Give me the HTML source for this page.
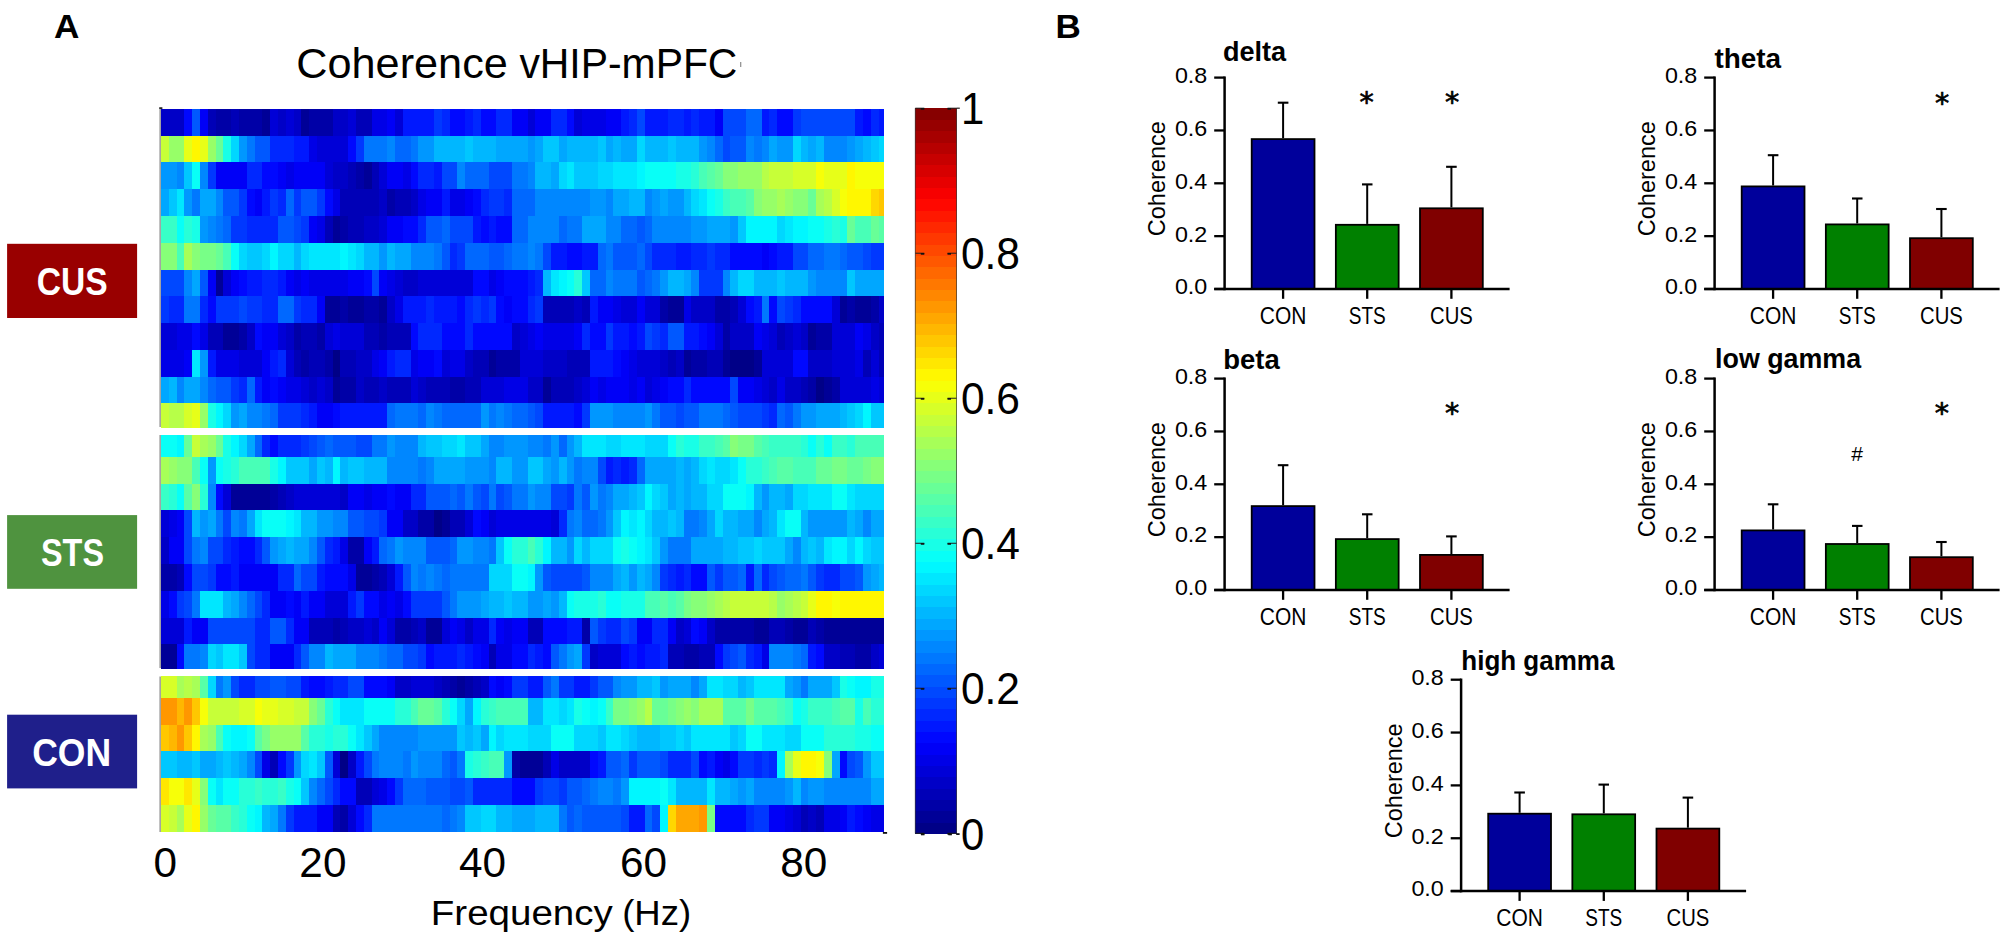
<!DOCTYPE html>
<html lang="en"><head><meta charset="utf-8"><title>Coherence vHIP-mPFC</title>
<style>html,body{margin:0;padding:0;background:#fff}svg{display:block}text{font-family:"Liberation Sans",Arial,sans-serif}</style>
</head><body>
<svg width="2008" height="941" viewBox="0 0 2008 941">
<rect width="2008" height="941" fill="#fff"/>
<text x="54.1" y="37.9" font-size="32.3" font-weight="bold" textLength="25.4" lengthAdjust="spacingAndGlyphs" fill="#000">A</text>
<text x="1055.4" y="37.9" font-size="32.3" font-weight="bold" textLength="25.3" lengthAdjust="spacingAndGlyphs" fill="#000">B</text>
<text y="77.6" font-size="42" fill="#000"><tspan x="296.3" textLength="211.5" lengthAdjust="spacingAndGlyphs">Coherence</tspan> <tspan x="519.4" textLength="218" lengthAdjust="spacingAndGlyphs">vHIP-mPFC</tspan></text>
<g shape-rendering="crispEdges">
<rect x="160.90" y="108.90" width="23.40" height="27.37" fill="#0000c7"/>
<rect x="184.30" y="108.90" width="7.80" height="27.37" fill="#0008ff"/>
<rect x="192.10" y="108.90" width="7.80" height="27.37" fill="#0058ff"/>
<rect x="199.90" y="108.90" width="7.80" height="27.37" fill="#0000f7"/>
<rect x="207.70" y="108.90" width="7.80" height="27.37" fill="#0000b7"/>
<rect x="215.50" y="108.90" width="15.60" height="27.37" fill="#0000a7"/>
<rect x="231.10" y="108.90" width="7.80" height="27.37" fill="#0000b7"/>
<rect x="238.90" y="108.90" width="23.40" height="27.37" fill="#0000a7"/>
<rect x="262.30" y="108.90" width="7.80" height="27.37" fill="#000097"/>
<rect x="270.10" y="108.90" width="7.80" height="27.37" fill="#0000d7"/>
<rect x="277.90" y="108.90" width="7.80" height="27.37" fill="#0000c7"/>
<rect x="285.70" y="108.90" width="7.80" height="27.37" fill="#0000d7"/>
<rect x="293.50" y="108.90" width="7.80" height="27.37" fill="#0000c7"/>
<rect x="301.30" y="108.90" width="7.80" height="27.37" fill="#000097"/>
<rect x="309.10" y="108.90" width="23.40" height="27.37" fill="#0000a7"/>
<rect x="332.50" y="108.90" width="15.60" height="27.37" fill="#0000c7"/>
<rect x="348.10" y="108.90" width="7.80" height="27.37" fill="#0000d7"/>
<rect x="355.90" y="108.90" width="15.60" height="27.37" fill="#0000b7"/>
<rect x="371.50" y="108.90" width="15.60" height="27.37" fill="#0000e7"/>
<rect x="387.10" y="108.90" width="7.80" height="27.37" fill="#0000f7"/>
<rect x="394.90" y="108.90" width="7.80" height="27.37" fill="#0000d7"/>
<rect x="402.70" y="108.90" width="31.20" height="27.37" fill="#0018ff"/>
<rect x="433.90" y="108.90" width="7.80" height="27.37" fill="#0038ff"/>
<rect x="441.70" y="108.90" width="7.80" height="27.37" fill="#0028ff"/>
<rect x="449.50" y="108.90" width="15.60" height="27.37" fill="#0008ff"/>
<rect x="465.10" y="108.90" width="7.80" height="27.37" fill="#0018ff"/>
<rect x="472.90" y="108.90" width="7.80" height="27.37" fill="#0028ff"/>
<rect x="480.70" y="108.90" width="15.60" height="27.37" fill="#0008ff"/>
<rect x="496.30" y="108.90" width="15.60" height="27.37" fill="#0028ff"/>
<rect x="511.90" y="108.90" width="15.60" height="27.37" fill="#0000f7"/>
<rect x="527.50" y="108.90" width="7.80" height="27.37" fill="#0000d7"/>
<rect x="535.30" y="108.90" width="15.60" height="27.37" fill="#0000f7"/>
<rect x="550.90" y="108.90" width="15.60" height="27.37" fill="#0028ff"/>
<rect x="566.50" y="108.90" width="7.80" height="27.37" fill="#0008ff"/>
<rect x="574.30" y="108.90" width="7.80" height="27.37" fill="#0000d7"/>
<rect x="582.10" y="108.90" width="23.40" height="27.37" fill="#0000e7"/>
<rect x="605.50" y="108.90" width="15.60" height="27.37" fill="#0000f7"/>
<rect x="621.10" y="108.90" width="7.80" height="27.37" fill="#0018ff"/>
<rect x="628.90" y="108.90" width="7.80" height="27.37" fill="#0028ff"/>
<rect x="636.70" y="108.90" width="7.80" height="27.37" fill="#0048ff"/>
<rect x="644.50" y="108.90" width="23.40" height="27.37" fill="#0018ff"/>
<rect x="667.90" y="108.90" width="15.60" height="27.37" fill="#0028ff"/>
<rect x="683.50" y="108.90" width="7.80" height="27.37" fill="#0018ff"/>
<rect x="691.30" y="108.90" width="7.80" height="27.37" fill="#0028ff"/>
<rect x="699.10" y="108.90" width="15.60" height="27.37" fill="#0018ff"/>
<rect x="714.70" y="108.90" width="7.80" height="27.37" fill="#0000f7"/>
<rect x="722.50" y="108.90" width="23.40" height="27.37" fill="#0048ff"/>
<rect x="745.90" y="108.90" width="15.60" height="27.37" fill="#0068ff"/>
<rect x="761.50" y="108.90" width="7.80" height="27.37" fill="#0018ff"/>
<rect x="769.30" y="108.90" width="7.80" height="27.37" fill="#0028ff"/>
<rect x="777.10" y="108.90" width="15.60" height="27.37" fill="#0008ff"/>
<rect x="792.70" y="108.90" width="7.80" height="27.37" fill="#0038ff"/>
<rect x="800.50" y="108.90" width="54.60" height="27.37" fill="#0048ff"/>
<rect x="855.10" y="108.90" width="7.80" height="27.37" fill="#0018ff"/>
<rect x="862.90" y="108.90" width="7.80" height="27.37" fill="#0008ff"/>
<rect x="870.70" y="108.90" width="7.80" height="27.37" fill="#0028ff"/>
<rect x="878.50" y="108.90" width="5.40" height="27.37" fill="#0018ff"/>
<rect x="160.90" y="135.67" width="7.80" height="27.37" fill="#c7ff38"/>
<rect x="168.70" y="135.67" width="15.60" height="27.37" fill="#97ff68"/>
<rect x="184.30" y="135.67" width="7.80" height="27.37" fill="#e7ff18"/>
<rect x="192.10" y="135.67" width="7.80" height="27.37" fill="#fff700"/>
<rect x="199.90" y="135.67" width="7.80" height="27.37" fill="#e7ff18"/>
<rect x="207.70" y="135.67" width="7.80" height="27.37" fill="#97ff68"/>
<rect x="215.50" y="135.67" width="7.80" height="27.37" fill="#68ff97"/>
<rect x="223.30" y="135.67" width="7.80" height="27.37" fill="#18ffe7"/>
<rect x="231.10" y="135.67" width="7.80" height="27.37" fill="#00d7ff"/>
<rect x="238.90" y="135.67" width="7.80" height="27.37" fill="#0097ff"/>
<rect x="246.70" y="135.67" width="7.80" height="27.37" fill="#0078ff"/>
<rect x="254.50" y="135.67" width="15.60" height="27.37" fill="#0058ff"/>
<rect x="270.10" y="135.67" width="23.40" height="27.37" fill="#0028ff"/>
<rect x="293.50" y="135.67" width="15.60" height="27.37" fill="#0018ff"/>
<rect x="309.10" y="135.67" width="7.80" height="27.37" fill="#0000e7"/>
<rect x="316.90" y="135.67" width="31.20" height="27.37" fill="#0000d7"/>
<rect x="348.10" y="135.67" width="7.80" height="27.37" fill="#0008ff"/>
<rect x="355.90" y="135.67" width="7.80" height="27.37" fill="#0038ff"/>
<rect x="363.70" y="135.67" width="23.40" height="27.37" fill="#0078ff"/>
<rect x="387.10" y="135.67" width="7.80" height="27.37" fill="#0087ff"/>
<rect x="394.90" y="135.67" width="15.60" height="27.37" fill="#0068ff"/>
<rect x="410.50" y="135.67" width="7.80" height="27.37" fill="#0078ff"/>
<rect x="418.30" y="135.67" width="15.60" height="27.37" fill="#0097ff"/>
<rect x="433.90" y="135.67" width="31.20" height="27.37" fill="#00b7ff"/>
<rect x="465.10" y="135.67" width="7.80" height="27.37" fill="#00c7ff"/>
<rect x="472.90" y="135.67" width="23.40" height="27.37" fill="#00b7ff"/>
<rect x="496.30" y="135.67" width="31.20" height="27.37" fill="#00a7ff"/>
<rect x="527.50" y="135.67" width="7.80" height="27.37" fill="#0097ff"/>
<rect x="535.30" y="135.67" width="7.80" height="27.37" fill="#00a7ff"/>
<rect x="543.10" y="135.67" width="15.60" height="27.37" fill="#00c7ff"/>
<rect x="558.70" y="135.67" width="7.80" height="27.37" fill="#00a7ff"/>
<rect x="566.50" y="135.67" width="31.20" height="27.37" fill="#00b7ff"/>
<rect x="597.70" y="135.67" width="7.80" height="27.37" fill="#00c7ff"/>
<rect x="605.50" y="135.67" width="7.80" height="27.37" fill="#00a7ff"/>
<rect x="613.30" y="135.67" width="7.80" height="27.37" fill="#00b7ff"/>
<rect x="621.10" y="135.67" width="15.60" height="27.37" fill="#00a7ff"/>
<rect x="636.70" y="135.67" width="7.80" height="27.37" fill="#00d7ff"/>
<rect x="644.50" y="135.67" width="23.40" height="27.37" fill="#00b7ff"/>
<rect x="667.90" y="135.67" width="7.80" height="27.37" fill="#00c7ff"/>
<rect x="675.70" y="135.67" width="23.40" height="27.37" fill="#00b7ff"/>
<rect x="699.10" y="135.67" width="7.80" height="27.37" fill="#0097ff"/>
<rect x="706.90" y="135.67" width="7.80" height="27.37" fill="#0087ff"/>
<rect x="714.70" y="135.67" width="7.80" height="27.37" fill="#0068ff"/>
<rect x="722.50" y="135.67" width="7.80" height="27.37" fill="#0048ff"/>
<rect x="730.30" y="135.67" width="15.60" height="27.37" fill="#0058ff"/>
<rect x="745.90" y="135.67" width="7.80" height="27.37" fill="#0087ff"/>
<rect x="753.70" y="135.67" width="7.80" height="27.37" fill="#0078ff"/>
<rect x="761.50" y="135.67" width="7.80" height="27.37" fill="#0087ff"/>
<rect x="769.30" y="135.67" width="7.80" height="27.37" fill="#00a7ff"/>
<rect x="777.10" y="135.67" width="15.60" height="27.37" fill="#0097ff"/>
<rect x="792.70" y="135.67" width="7.80" height="27.37" fill="#00d7ff"/>
<rect x="800.50" y="135.67" width="7.80" height="27.37" fill="#00b7ff"/>
<rect x="808.30" y="135.67" width="7.80" height="27.37" fill="#00a7ff"/>
<rect x="816.10" y="135.67" width="7.80" height="27.37" fill="#00b7ff"/>
<rect x="823.90" y="135.67" width="23.40" height="27.37" fill="#0087ff"/>
<rect x="847.30" y="135.67" width="7.80" height="27.37" fill="#0097ff"/>
<rect x="855.10" y="135.67" width="7.80" height="27.37" fill="#00a7ff"/>
<rect x="862.90" y="135.67" width="7.80" height="27.37" fill="#00b7ff"/>
<rect x="870.70" y="135.67" width="7.80" height="27.37" fill="#00c7ff"/>
<rect x="878.50" y="135.67" width="5.40" height="27.37" fill="#00d7ff"/>
<rect x="160.90" y="162.44" width="15.60" height="27.37" fill="#0097ff"/>
<rect x="176.50" y="162.44" width="7.80" height="27.37" fill="#0087ff"/>
<rect x="184.30" y="162.44" width="7.80" height="27.37" fill="#00c7ff"/>
<rect x="192.10" y="162.44" width="7.80" height="27.37" fill="#08fff7"/>
<rect x="199.90" y="162.44" width="7.80" height="27.37" fill="#0087ff"/>
<rect x="207.70" y="162.44" width="7.80" height="27.37" fill="#0038ff"/>
<rect x="215.50" y="162.44" width="31.20" height="27.37" fill="#0000f7"/>
<rect x="246.70" y="162.44" width="15.60" height="27.37" fill="#0028ff"/>
<rect x="262.30" y="162.44" width="15.60" height="27.37" fill="#0008ff"/>
<rect x="277.90" y="162.44" width="7.80" height="27.37" fill="#0000f7"/>
<rect x="285.70" y="162.44" width="7.80" height="27.37" fill="#0000e7"/>
<rect x="293.50" y="162.44" width="31.20" height="27.37" fill="#0000f7"/>
<rect x="324.70" y="162.44" width="7.80" height="27.37" fill="#0000d7"/>
<rect x="332.50" y="162.44" width="15.60" height="27.37" fill="#0000c7"/>
<rect x="348.10" y="162.44" width="7.80" height="27.37" fill="#0000b7"/>
<rect x="355.90" y="162.44" width="7.80" height="27.37" fill="#0000a7"/>
<rect x="363.70" y="162.44" width="7.80" height="27.37" fill="#000097"/>
<rect x="371.50" y="162.44" width="7.80" height="27.37" fill="#0000b7"/>
<rect x="379.30" y="162.44" width="7.80" height="27.37" fill="#0000d7"/>
<rect x="387.10" y="162.44" width="15.60" height="27.37" fill="#0000f7"/>
<rect x="402.70" y="162.44" width="7.80" height="27.37" fill="#0000e7"/>
<rect x="410.50" y="162.44" width="7.80" height="27.37" fill="#0008ff"/>
<rect x="418.30" y="162.44" width="15.60" height="27.37" fill="#0028ff"/>
<rect x="433.90" y="162.44" width="7.80" height="27.37" fill="#0018ff"/>
<rect x="441.70" y="162.44" width="15.60" height="27.37" fill="#0048ff"/>
<rect x="457.30" y="162.44" width="7.80" height="27.37" fill="#0087ff"/>
<rect x="465.10" y="162.44" width="23.40" height="27.37" fill="#0068ff"/>
<rect x="488.50" y="162.44" width="23.40" height="27.37" fill="#0048ff"/>
<rect x="511.90" y="162.44" width="15.60" height="27.37" fill="#0078ff"/>
<rect x="527.50" y="162.44" width="7.80" height="27.37" fill="#0087ff"/>
<rect x="535.30" y="162.44" width="15.60" height="27.37" fill="#00b7ff"/>
<rect x="550.90" y="162.44" width="7.80" height="27.37" fill="#00a7ff"/>
<rect x="558.70" y="162.44" width="7.80" height="27.37" fill="#00d7ff"/>
<rect x="566.50" y="162.44" width="7.80" height="27.37" fill="#00e7ff"/>
<rect x="574.30" y="162.44" width="23.40" height="27.37" fill="#00c7ff"/>
<rect x="597.70" y="162.44" width="15.60" height="27.37" fill="#00d7ff"/>
<rect x="613.30" y="162.44" width="23.40" height="27.37" fill="#00e7ff"/>
<rect x="636.70" y="162.44" width="7.80" height="27.37" fill="#00f7ff"/>
<rect x="644.50" y="162.44" width="31.20" height="27.37" fill="#08fff7"/>
<rect x="675.70" y="162.44" width="15.60" height="27.37" fill="#18ffe7"/>
<rect x="691.30" y="162.44" width="7.80" height="27.37" fill="#28ffd7"/>
<rect x="699.10" y="162.44" width="7.80" height="27.37" fill="#48ffb7"/>
<rect x="706.90" y="162.44" width="7.80" height="27.37" fill="#58ffa7"/>
<rect x="714.70" y="162.44" width="7.80" height="27.37" fill="#68ff97"/>
<rect x="722.50" y="162.44" width="15.60" height="27.37" fill="#87ff78"/>
<rect x="738.10" y="162.44" width="23.40" height="27.37" fill="#97ff68"/>
<rect x="761.50" y="162.44" width="7.80" height="27.37" fill="#b7ff48"/>
<rect x="769.30" y="162.44" width="23.40" height="27.37" fill="#c7ff38"/>
<rect x="792.70" y="162.44" width="23.40" height="27.37" fill="#d7ff28"/>
<rect x="816.10" y="162.44" width="7.80" height="27.37" fill="#f7ff08"/>
<rect x="823.90" y="162.44" width="23.40" height="27.37" fill="#e7ff18"/>
<rect x="847.30" y="162.44" width="7.80" height="27.37" fill="#fff700"/>
<rect x="855.10" y="162.44" width="28.80" height="27.37" fill="#f7ff08"/>
<rect x="160.90" y="189.21" width="7.80" height="27.37" fill="#00a7ff"/>
<rect x="168.70" y="189.21" width="7.80" height="27.37" fill="#00c7ff"/>
<rect x="176.50" y="189.21" width="7.80" height="27.37" fill="#00e7ff"/>
<rect x="184.30" y="189.21" width="7.80" height="27.37" fill="#0097ff"/>
<rect x="192.10" y="189.21" width="7.80" height="27.37" fill="#0078ff"/>
<rect x="199.90" y="189.21" width="15.60" height="27.37" fill="#00a7ff"/>
<rect x="215.50" y="189.21" width="7.80" height="27.37" fill="#0087ff"/>
<rect x="223.30" y="189.21" width="15.60" height="27.37" fill="#0058ff"/>
<rect x="238.90" y="189.21" width="7.80" height="27.37" fill="#0038ff"/>
<rect x="246.70" y="189.21" width="7.80" height="27.37" fill="#0008ff"/>
<rect x="254.50" y="189.21" width="7.80" height="27.37" fill="#0000f7"/>
<rect x="262.30" y="189.21" width="7.80" height="27.37" fill="#0018ff"/>
<rect x="270.10" y="189.21" width="7.80" height="27.37" fill="#0038ff"/>
<rect x="277.90" y="189.21" width="7.80" height="27.37" fill="#0028ff"/>
<rect x="285.70" y="189.21" width="7.80" height="27.37" fill="#0068ff"/>
<rect x="293.50" y="189.21" width="7.80" height="27.37" fill="#0038ff"/>
<rect x="301.30" y="189.21" width="15.60" height="27.37" fill="#0058ff"/>
<rect x="316.90" y="189.21" width="7.80" height="27.37" fill="#0038ff"/>
<rect x="324.70" y="189.21" width="7.80" height="27.37" fill="#0008ff"/>
<rect x="332.50" y="189.21" width="7.80" height="27.37" fill="#0000e7"/>
<rect x="340.30" y="189.21" width="39.00" height="27.37" fill="#0000b7"/>
<rect x="379.30" y="189.21" width="7.80" height="27.37" fill="#0000c7"/>
<rect x="387.10" y="189.21" width="7.80" height="27.37" fill="#0000a7"/>
<rect x="394.90" y="189.21" width="15.60" height="27.37" fill="#0000b7"/>
<rect x="410.50" y="189.21" width="7.80" height="27.37" fill="#0000c7"/>
<rect x="418.30" y="189.21" width="7.80" height="27.37" fill="#0000e7"/>
<rect x="426.10" y="189.21" width="15.60" height="27.37" fill="#0000f7"/>
<rect x="441.70" y="189.21" width="7.80" height="27.37" fill="#0018ff"/>
<rect x="449.50" y="189.21" width="15.60" height="27.37" fill="#0000e7"/>
<rect x="465.10" y="189.21" width="7.80" height="27.37" fill="#0000f7"/>
<rect x="472.90" y="189.21" width="7.80" height="27.37" fill="#0008ff"/>
<rect x="480.70" y="189.21" width="7.80" height="27.37" fill="#0028ff"/>
<rect x="488.50" y="189.21" width="15.60" height="27.37" fill="#0038ff"/>
<rect x="504.10" y="189.21" width="7.80" height="27.37" fill="#0028ff"/>
<rect x="511.90" y="189.21" width="23.40" height="27.37" fill="#0068ff"/>
<rect x="535.30" y="189.21" width="54.60" height="27.37" fill="#0087ff"/>
<rect x="589.90" y="189.21" width="15.60" height="27.37" fill="#0097ff"/>
<rect x="605.50" y="189.21" width="7.80" height="27.37" fill="#0087ff"/>
<rect x="613.30" y="189.21" width="15.60" height="27.37" fill="#00a7ff"/>
<rect x="628.90" y="189.21" width="15.60" height="27.37" fill="#00b7ff"/>
<rect x="644.50" y="189.21" width="7.80" height="27.37" fill="#0087ff"/>
<rect x="652.30" y="189.21" width="7.80" height="27.37" fill="#0097ff"/>
<rect x="660.10" y="189.21" width="7.80" height="27.37" fill="#00a7ff"/>
<rect x="667.90" y="189.21" width="15.60" height="27.37" fill="#0097ff"/>
<rect x="683.50" y="189.21" width="7.80" height="27.37" fill="#00b7ff"/>
<rect x="691.30" y="189.21" width="7.80" height="27.37" fill="#00d7ff"/>
<rect x="699.10" y="189.21" width="7.80" height="27.37" fill="#00e7ff"/>
<rect x="706.90" y="189.21" width="7.80" height="27.37" fill="#08fff7"/>
<rect x="714.70" y="189.21" width="7.80" height="27.37" fill="#18ffe7"/>
<rect x="722.50" y="189.21" width="7.80" height="27.37" fill="#38ffc7"/>
<rect x="730.30" y="189.21" width="15.60" height="27.37" fill="#48ffb7"/>
<rect x="745.90" y="189.21" width="7.80" height="27.37" fill="#58ffa7"/>
<rect x="753.70" y="189.21" width="7.80" height="27.37" fill="#87ff78"/>
<rect x="761.50" y="189.21" width="15.60" height="27.37" fill="#97ff68"/>
<rect x="777.10" y="189.21" width="7.80" height="27.37" fill="#a7ff58"/>
<rect x="784.90" y="189.21" width="7.80" height="27.37" fill="#97ff68"/>
<rect x="792.70" y="189.21" width="15.60" height="27.37" fill="#87ff78"/>
<rect x="808.30" y="189.21" width="7.80" height="27.37" fill="#68ff97"/>
<rect x="816.10" y="189.21" width="7.80" height="27.37" fill="#a7ff58"/>
<rect x="823.90" y="189.21" width="7.80" height="27.37" fill="#b7ff48"/>
<rect x="831.70" y="189.21" width="7.80" height="27.37" fill="#d7ff28"/>
<rect x="839.50" y="189.21" width="7.80" height="27.37" fill="#f7ff08"/>
<rect x="847.30" y="189.21" width="23.40" height="27.37" fill="#fff700"/>
<rect x="870.70" y="189.21" width="7.80" height="27.37" fill="#ffd700"/>
<rect x="878.50" y="189.21" width="5.40" height="27.37" fill="#ffc700"/>
<rect x="160.90" y="215.98" width="15.60" height="27.37" fill="#38ffc7"/>
<rect x="176.50" y="215.98" width="7.80" height="27.37" fill="#08fff7"/>
<rect x="184.30" y="215.98" width="7.80" height="27.37" fill="#28ffd7"/>
<rect x="192.10" y="215.98" width="7.80" height="27.37" fill="#18ffe7"/>
<rect x="199.90" y="215.98" width="7.80" height="27.37" fill="#0097ff"/>
<rect x="207.70" y="215.98" width="7.80" height="27.37" fill="#0087ff"/>
<rect x="215.50" y="215.98" width="7.80" height="27.37" fill="#0078ff"/>
<rect x="223.30" y="215.98" width="7.80" height="27.37" fill="#0068ff"/>
<rect x="231.10" y="215.98" width="15.60" height="27.37" fill="#0038ff"/>
<rect x="246.70" y="215.98" width="31.20" height="27.37" fill="#0028ff"/>
<rect x="277.90" y="215.98" width="15.60" height="27.37" fill="#0058ff"/>
<rect x="293.50" y="215.98" width="7.80" height="27.37" fill="#0048ff"/>
<rect x="301.30" y="215.98" width="7.80" height="27.37" fill="#0038ff"/>
<rect x="309.10" y="215.98" width="7.80" height="27.37" fill="#0000f7"/>
<rect x="316.90" y="215.98" width="7.80" height="27.37" fill="#0000e7"/>
<rect x="324.70" y="215.98" width="7.80" height="27.37" fill="#0000b7"/>
<rect x="332.50" y="215.98" width="7.80" height="27.37" fill="#000097"/>
<rect x="340.30" y="215.98" width="7.80" height="27.37" fill="#0000a7"/>
<rect x="348.10" y="215.98" width="15.60" height="27.37" fill="#0000b7"/>
<rect x="363.70" y="215.98" width="15.60" height="27.37" fill="#0000c7"/>
<rect x="379.30" y="215.98" width="7.80" height="27.37" fill="#0000d7"/>
<rect x="387.10" y="215.98" width="15.60" height="27.37" fill="#0000f7"/>
<rect x="402.70" y="215.98" width="15.60" height="27.37" fill="#0008ff"/>
<rect x="418.30" y="215.98" width="7.80" height="27.37" fill="#0028ff"/>
<rect x="426.10" y="215.98" width="15.60" height="27.37" fill="#0058ff"/>
<rect x="441.70" y="215.98" width="7.80" height="27.37" fill="#0068ff"/>
<rect x="449.50" y="215.98" width="23.40" height="27.37" fill="#0048ff"/>
<rect x="472.90" y="215.98" width="7.80" height="27.37" fill="#0018ff"/>
<rect x="480.70" y="215.98" width="7.80" height="27.37" fill="#0008ff"/>
<rect x="488.50" y="215.98" width="7.80" height="27.37" fill="#0018ff"/>
<rect x="496.30" y="215.98" width="15.60" height="27.37" fill="#0008ff"/>
<rect x="511.90" y="215.98" width="15.60" height="27.37" fill="#0068ff"/>
<rect x="527.50" y="215.98" width="31.20" height="27.37" fill="#0087ff"/>
<rect x="558.70" y="215.98" width="7.80" height="27.37" fill="#0068ff"/>
<rect x="566.50" y="215.98" width="15.60" height="27.37" fill="#0078ff"/>
<rect x="582.10" y="215.98" width="23.40" height="27.37" fill="#00a7ff"/>
<rect x="605.50" y="215.98" width="15.60" height="27.37" fill="#0087ff"/>
<rect x="621.10" y="215.98" width="15.60" height="27.37" fill="#0068ff"/>
<rect x="636.70" y="215.98" width="7.80" height="27.37" fill="#0058ff"/>
<rect x="644.50" y="215.98" width="7.80" height="27.37" fill="#0068ff"/>
<rect x="652.30" y="215.98" width="39.00" height="27.37" fill="#0087ff"/>
<rect x="691.30" y="215.98" width="15.60" height="27.37" fill="#0097ff"/>
<rect x="706.90" y="215.98" width="23.40" height="27.37" fill="#00a7ff"/>
<rect x="730.30" y="215.98" width="7.80" height="27.37" fill="#0097ff"/>
<rect x="738.10" y="215.98" width="7.80" height="27.37" fill="#00c7ff"/>
<rect x="745.90" y="215.98" width="31.20" height="27.37" fill="#00f7ff"/>
<rect x="777.10" y="215.98" width="7.80" height="27.37" fill="#00d7ff"/>
<rect x="784.90" y="215.98" width="7.80" height="27.37" fill="#00e7ff"/>
<rect x="792.70" y="215.98" width="15.60" height="27.37" fill="#00f7ff"/>
<rect x="808.30" y="215.98" width="15.60" height="27.37" fill="#08fff7"/>
<rect x="823.90" y="215.98" width="7.80" height="27.37" fill="#18ffe7"/>
<rect x="831.70" y="215.98" width="7.80" height="27.37" fill="#28ffd7"/>
<rect x="839.50" y="215.98" width="7.80" height="27.37" fill="#18ffe7"/>
<rect x="847.30" y="215.98" width="7.80" height="27.37" fill="#68ff97"/>
<rect x="855.10" y="215.98" width="15.60" height="27.37" fill="#48ffb7"/>
<rect x="870.70" y="215.98" width="7.80" height="27.37" fill="#68ff97"/>
<rect x="878.50" y="215.98" width="5.40" height="27.37" fill="#58ffa7"/>
<rect x="160.90" y="242.75" width="15.60" height="27.37" fill="#87ff78"/>
<rect x="176.50" y="242.75" width="7.80" height="27.37" fill="#48ffb7"/>
<rect x="184.30" y="242.75" width="7.80" height="27.37" fill="#a7ff58"/>
<rect x="192.10" y="242.75" width="7.80" height="27.37" fill="#87ff78"/>
<rect x="199.90" y="242.75" width="15.60" height="27.37" fill="#78ff87"/>
<rect x="215.50" y="242.75" width="7.80" height="27.37" fill="#68ff97"/>
<rect x="223.30" y="242.75" width="7.80" height="27.37" fill="#48ffb7"/>
<rect x="231.10" y="242.75" width="7.80" height="27.37" fill="#08fff7"/>
<rect x="238.90" y="242.75" width="7.80" height="27.37" fill="#00d7ff"/>
<rect x="246.70" y="242.75" width="15.60" height="27.37" fill="#00c7ff"/>
<rect x="262.30" y="242.75" width="7.80" height="27.37" fill="#00d7ff"/>
<rect x="270.10" y="242.75" width="7.80" height="27.37" fill="#00f7ff"/>
<rect x="277.90" y="242.75" width="15.60" height="27.37" fill="#00d7ff"/>
<rect x="293.50" y="242.75" width="7.80" height="27.37" fill="#00b7ff"/>
<rect x="301.30" y="242.75" width="7.80" height="27.37" fill="#00d7ff"/>
<rect x="309.10" y="242.75" width="31.20" height="27.37" fill="#00e7ff"/>
<rect x="340.30" y="242.75" width="7.80" height="27.37" fill="#00f7ff"/>
<rect x="348.10" y="242.75" width="7.80" height="27.37" fill="#00e7ff"/>
<rect x="355.90" y="242.75" width="7.80" height="27.37" fill="#00d7ff"/>
<rect x="363.70" y="242.75" width="15.60" height="27.37" fill="#00b7ff"/>
<rect x="379.30" y="242.75" width="7.80" height="27.37" fill="#0097ff"/>
<rect x="387.10" y="242.75" width="7.80" height="27.37" fill="#00b7ff"/>
<rect x="394.90" y="242.75" width="15.60" height="27.37" fill="#00a7ff"/>
<rect x="410.50" y="242.75" width="23.40" height="27.37" fill="#0087ff"/>
<rect x="433.90" y="242.75" width="7.80" height="27.37" fill="#0078ff"/>
<rect x="441.70" y="242.75" width="7.80" height="27.37" fill="#0058ff"/>
<rect x="449.50" y="242.75" width="7.80" height="27.37" fill="#0028ff"/>
<rect x="457.30" y="242.75" width="7.80" height="27.37" fill="#0038ff"/>
<rect x="465.10" y="242.75" width="23.40" height="27.37" fill="#0068ff"/>
<rect x="488.50" y="242.75" width="15.60" height="27.37" fill="#0058ff"/>
<rect x="504.10" y="242.75" width="7.80" height="27.37" fill="#0068ff"/>
<rect x="511.90" y="242.75" width="15.60" height="27.37" fill="#0078ff"/>
<rect x="527.50" y="242.75" width="7.80" height="27.37" fill="#0087ff"/>
<rect x="535.30" y="242.75" width="7.80" height="27.37" fill="#0078ff"/>
<rect x="543.10" y="242.75" width="7.80" height="27.37" fill="#0048ff"/>
<rect x="550.90" y="242.75" width="15.60" height="27.37" fill="#0018ff"/>
<rect x="566.50" y="242.75" width="15.60" height="27.37" fill="#0008ff"/>
<rect x="582.10" y="242.75" width="15.60" height="27.37" fill="#0018ff"/>
<rect x="597.70" y="242.75" width="7.80" height="27.37" fill="#0068ff"/>
<rect x="605.50" y="242.75" width="7.80" height="27.37" fill="#0078ff"/>
<rect x="613.30" y="242.75" width="23.40" height="27.37" fill="#0058ff"/>
<rect x="636.70" y="242.75" width="7.80" height="27.37" fill="#0068ff"/>
<rect x="644.50" y="242.75" width="7.80" height="27.37" fill="#0048ff"/>
<rect x="652.30" y="242.75" width="23.40" height="27.37" fill="#0028ff"/>
<rect x="675.70" y="242.75" width="15.60" height="27.37" fill="#0018ff"/>
<rect x="691.30" y="242.75" width="15.60" height="27.37" fill="#0028ff"/>
<rect x="706.90" y="242.75" width="7.80" height="27.37" fill="#0038ff"/>
<rect x="714.70" y="242.75" width="15.60" height="27.37" fill="#0028ff"/>
<rect x="730.30" y="242.75" width="31.20" height="27.37" fill="#0008ff"/>
<rect x="761.50" y="242.75" width="7.80" height="27.37" fill="#0000f7"/>
<rect x="769.30" y="242.75" width="7.80" height="27.37" fill="#0008ff"/>
<rect x="777.10" y="242.75" width="15.60" height="27.37" fill="#0018ff"/>
<rect x="792.70" y="242.75" width="15.60" height="27.37" fill="#0048ff"/>
<rect x="808.30" y="242.75" width="15.60" height="27.37" fill="#0068ff"/>
<rect x="823.90" y="242.75" width="15.60" height="27.37" fill="#0078ff"/>
<rect x="839.50" y="242.75" width="7.80" height="27.37" fill="#0068ff"/>
<rect x="847.30" y="242.75" width="15.60" height="27.37" fill="#0058ff"/>
<rect x="862.90" y="242.75" width="7.80" height="27.37" fill="#0048ff"/>
<rect x="870.70" y="242.75" width="13.20" height="27.37" fill="#0038ff"/>
<rect x="160.90" y="269.52" width="23.40" height="27.37" fill="#0048ff"/>
<rect x="184.30" y="269.52" width="7.80" height="27.37" fill="#0087ff"/>
<rect x="192.10" y="269.52" width="7.80" height="27.37" fill="#00a7ff"/>
<rect x="199.90" y="269.52" width="7.80" height="27.37" fill="#0058ff"/>
<rect x="207.70" y="269.52" width="7.80" height="27.37" fill="#0000f7"/>
<rect x="215.50" y="269.52" width="7.80" height="27.37" fill="#000097"/>
<rect x="223.30" y="269.52" width="7.80" height="27.37" fill="#0000d7"/>
<rect x="231.10" y="269.52" width="7.80" height="27.37" fill="#0000f7"/>
<rect x="238.90" y="269.52" width="7.80" height="27.37" fill="#0008ff"/>
<rect x="246.70" y="269.52" width="15.60" height="27.37" fill="#0018ff"/>
<rect x="262.30" y="269.52" width="15.60" height="27.37" fill="#0028ff"/>
<rect x="277.90" y="269.52" width="7.80" height="27.37" fill="#0018ff"/>
<rect x="285.70" y="269.52" width="7.80" height="27.37" fill="#0000f7"/>
<rect x="293.50" y="269.52" width="7.80" height="27.37" fill="#0000e7"/>
<rect x="301.30" y="269.52" width="7.80" height="27.37" fill="#0000f7"/>
<rect x="309.10" y="269.52" width="39.00" height="27.37" fill="#0000e7"/>
<rect x="348.10" y="269.52" width="15.60" height="27.37" fill="#0000f7"/>
<rect x="363.70" y="269.52" width="7.80" height="27.37" fill="#0008ff"/>
<rect x="371.50" y="269.52" width="7.80" height="27.37" fill="#0048ff"/>
<rect x="379.30" y="269.52" width="7.80" height="27.37" fill="#0000f7"/>
<rect x="387.10" y="269.52" width="7.80" height="27.37" fill="#0000e7"/>
<rect x="394.90" y="269.52" width="7.80" height="27.37" fill="#0000d7"/>
<rect x="402.70" y="269.52" width="15.60" height="27.37" fill="#0000c7"/>
<rect x="418.30" y="269.52" width="54.60" height="27.37" fill="#0000d7"/>
<rect x="472.90" y="269.52" width="15.60" height="27.37" fill="#0008ff"/>
<rect x="488.50" y="269.52" width="7.80" height="27.37" fill="#0000e7"/>
<rect x="496.30" y="269.52" width="7.80" height="27.37" fill="#0000f7"/>
<rect x="504.10" y="269.52" width="23.40" height="27.37" fill="#0008ff"/>
<rect x="527.50" y="269.52" width="7.80" height="27.37" fill="#0018ff"/>
<rect x="535.30" y="269.52" width="7.80" height="27.37" fill="#0028ff"/>
<rect x="543.10" y="269.52" width="7.80" height="27.37" fill="#00b7ff"/>
<rect x="550.90" y="269.52" width="7.80" height="27.37" fill="#00e7ff"/>
<rect x="558.70" y="269.52" width="7.80" height="27.37" fill="#00f7ff"/>
<rect x="566.50" y="269.52" width="7.80" height="27.37" fill="#08fff7"/>
<rect x="574.30" y="269.52" width="7.80" height="27.37" fill="#28ffd7"/>
<rect x="582.10" y="269.52" width="7.80" height="27.37" fill="#00c7ff"/>
<rect x="589.90" y="269.52" width="15.60" height="27.37" fill="#0068ff"/>
<rect x="605.50" y="269.52" width="7.80" height="27.37" fill="#0087ff"/>
<rect x="613.30" y="269.52" width="23.40" height="27.37" fill="#0078ff"/>
<rect x="636.70" y="269.52" width="7.80" height="27.37" fill="#0058ff"/>
<rect x="644.50" y="269.52" width="7.80" height="27.37" fill="#0068ff"/>
<rect x="652.30" y="269.52" width="7.80" height="27.37" fill="#0078ff"/>
<rect x="660.10" y="269.52" width="7.80" height="27.37" fill="#0097ff"/>
<rect x="667.90" y="269.52" width="15.60" height="27.37" fill="#00b7ff"/>
<rect x="683.50" y="269.52" width="7.80" height="27.37" fill="#00a7ff"/>
<rect x="691.30" y="269.52" width="7.80" height="27.37" fill="#0087ff"/>
<rect x="699.10" y="269.52" width="23.40" height="27.37" fill="#0038ff"/>
<rect x="722.50" y="269.52" width="7.80" height="27.37" fill="#0087ff"/>
<rect x="730.30" y="269.52" width="7.80" height="27.37" fill="#00b7ff"/>
<rect x="738.10" y="269.52" width="15.60" height="27.37" fill="#00d7ff"/>
<rect x="753.70" y="269.52" width="23.40" height="27.37" fill="#00b7ff"/>
<rect x="777.10" y="269.52" width="7.80" height="27.37" fill="#00c7ff"/>
<rect x="784.90" y="269.52" width="23.40" height="27.37" fill="#00b7ff"/>
<rect x="808.30" y="269.52" width="7.80" height="27.37" fill="#0097ff"/>
<rect x="816.10" y="269.52" width="31.20" height="27.37" fill="#0087ff"/>
<rect x="847.30" y="269.52" width="7.80" height="27.37" fill="#00c7ff"/>
<rect x="855.10" y="269.52" width="28.80" height="27.37" fill="#00a7ff"/>
<rect x="160.90" y="296.29" width="7.80" height="27.37" fill="#0038ff"/>
<rect x="168.70" y="296.29" width="15.60" height="27.37" fill="#0028ff"/>
<rect x="184.30" y="296.29" width="15.60" height="27.37" fill="#0078ff"/>
<rect x="199.90" y="296.29" width="7.80" height="27.37" fill="#0028ff"/>
<rect x="207.70" y="296.29" width="7.80" height="27.37" fill="#0008ff"/>
<rect x="215.50" y="296.29" width="23.40" height="27.37" fill="#0038ff"/>
<rect x="238.90" y="296.29" width="7.80" height="27.37" fill="#0048ff"/>
<rect x="246.70" y="296.29" width="15.60" height="27.37" fill="#0038ff"/>
<rect x="262.30" y="296.29" width="15.60" height="27.37" fill="#0028ff"/>
<rect x="277.90" y="296.29" width="15.60" height="27.37" fill="#0068ff"/>
<rect x="293.50" y="296.29" width="7.80" height="27.37" fill="#0038ff"/>
<rect x="301.30" y="296.29" width="15.60" height="27.37" fill="#0028ff"/>
<rect x="316.90" y="296.29" width="7.80" height="27.37" fill="#0000f7"/>
<rect x="324.70" y="296.29" width="15.60" height="27.37" fill="#000097"/>
<rect x="340.30" y="296.29" width="7.80" height="27.37" fill="#0000a7"/>
<rect x="348.10" y="296.29" width="15.60" height="27.37" fill="#000097"/>
<rect x="363.70" y="296.29" width="15.60" height="27.37" fill="#0000a7"/>
<rect x="379.30" y="296.29" width="7.80" height="27.37" fill="#000097"/>
<rect x="387.10" y="296.29" width="7.80" height="27.37" fill="#0000c7"/>
<rect x="394.90" y="296.29" width="7.80" height="27.37" fill="#0000e7"/>
<rect x="402.70" y="296.29" width="23.40" height="27.37" fill="#0018ff"/>
<rect x="426.10" y="296.29" width="7.80" height="27.37" fill="#0028ff"/>
<rect x="433.90" y="296.29" width="23.40" height="27.37" fill="#0018ff"/>
<rect x="457.30" y="296.29" width="7.80" height="27.37" fill="#0008ff"/>
<rect x="465.10" y="296.29" width="7.80" height="27.37" fill="#0028ff"/>
<rect x="472.90" y="296.29" width="7.80" height="27.37" fill="#0038ff"/>
<rect x="480.70" y="296.29" width="7.80" height="27.37" fill="#0028ff"/>
<rect x="488.50" y="296.29" width="7.80" height="27.37" fill="#0038ff"/>
<rect x="496.30" y="296.29" width="7.80" height="27.37" fill="#0008ff"/>
<rect x="504.10" y="296.29" width="7.80" height="27.37" fill="#0000f7"/>
<rect x="511.90" y="296.29" width="15.60" height="27.37" fill="#0008ff"/>
<rect x="527.50" y="296.29" width="7.80" height="27.37" fill="#0028ff"/>
<rect x="535.30" y="296.29" width="7.80" height="27.37" fill="#0038ff"/>
<rect x="543.10" y="296.29" width="31.20" height="27.37" fill="#0000b7"/>
<rect x="574.30" y="296.29" width="7.80" height="27.37" fill="#0000c7"/>
<rect x="582.10" y="296.29" width="7.80" height="27.37" fill="#0000b7"/>
<rect x="589.90" y="296.29" width="7.80" height="27.37" fill="#0018ff"/>
<rect x="597.70" y="296.29" width="15.60" height="27.37" fill="#0000f7"/>
<rect x="613.30" y="296.29" width="7.80" height="27.37" fill="#0000e7"/>
<rect x="621.10" y="296.29" width="15.60" height="27.37" fill="#0000d7"/>
<rect x="636.70" y="296.29" width="7.80" height="27.37" fill="#0000f7"/>
<rect x="644.50" y="296.29" width="15.60" height="27.37" fill="#0000d7"/>
<rect x="660.10" y="296.29" width="7.80" height="27.37" fill="#0000a7"/>
<rect x="667.90" y="296.29" width="15.60" height="27.37" fill="#000097"/>
<rect x="683.50" y="296.29" width="7.80" height="27.37" fill="#0000e7"/>
<rect x="691.30" y="296.29" width="23.40" height="27.37" fill="#0000c7"/>
<rect x="714.70" y="296.29" width="15.60" height="27.37" fill="#0000a7"/>
<rect x="730.30" y="296.29" width="7.80" height="27.37" fill="#0000b7"/>
<rect x="738.10" y="296.29" width="7.80" height="27.37" fill="#0000d7"/>
<rect x="745.90" y="296.29" width="7.80" height="27.37" fill="#0008ff"/>
<rect x="753.70" y="296.29" width="7.80" height="27.37" fill="#0018ff"/>
<rect x="761.50" y="296.29" width="7.80" height="27.37" fill="#0078ff"/>
<rect x="769.30" y="296.29" width="7.80" height="27.37" fill="#0008ff"/>
<rect x="777.10" y="296.29" width="7.80" height="27.37" fill="#0048ff"/>
<rect x="784.90" y="296.29" width="7.80" height="27.37" fill="#0038ff"/>
<rect x="792.70" y="296.29" width="7.80" height="27.37" fill="#0028ff"/>
<rect x="800.50" y="296.29" width="31.20" height="27.37" fill="#0008ff"/>
<rect x="831.70" y="296.29" width="7.80" height="27.37" fill="#0000d7"/>
<rect x="839.50" y="296.29" width="7.80" height="27.37" fill="#000097"/>
<rect x="847.30" y="296.29" width="7.80" height="27.37" fill="#0000a7"/>
<rect x="855.10" y="296.29" width="15.60" height="27.37" fill="#000097"/>
<rect x="870.70" y="296.29" width="7.80" height="27.37" fill="#0000a7"/>
<rect x="878.50" y="296.29" width="5.40" height="27.37" fill="#0000c7"/>
<rect x="160.90" y="323.06" width="15.60" height="27.37" fill="#0000d7"/>
<rect x="176.50" y="323.06" width="15.60" height="27.37" fill="#0000e7"/>
<rect x="192.10" y="323.06" width="7.80" height="27.37" fill="#0008ff"/>
<rect x="199.90" y="323.06" width="7.80" height="27.37" fill="#0000e7"/>
<rect x="207.70" y="323.06" width="15.60" height="27.37" fill="#0000b7"/>
<rect x="223.30" y="323.06" width="15.60" height="27.37" fill="#000097"/>
<rect x="238.90" y="323.06" width="7.80" height="27.37" fill="#0000a7"/>
<rect x="246.70" y="323.06" width="7.80" height="27.37" fill="#0000c7"/>
<rect x="254.50" y="323.06" width="7.80" height="27.37" fill="#0008ff"/>
<rect x="262.30" y="323.06" width="15.60" height="27.37" fill="#0000f7"/>
<rect x="277.90" y="323.06" width="7.80" height="27.37" fill="#0000d7"/>
<rect x="285.70" y="323.06" width="7.80" height="27.37" fill="#0000c7"/>
<rect x="293.50" y="323.06" width="7.80" height="27.37" fill="#0000a7"/>
<rect x="301.30" y="323.06" width="15.60" height="27.37" fill="#0000b7"/>
<rect x="316.90" y="323.06" width="7.80" height="27.37" fill="#0000a7"/>
<rect x="324.70" y="323.06" width="7.80" height="27.37" fill="#0000d7"/>
<rect x="332.50" y="323.06" width="7.80" height="27.37" fill="#0000e7"/>
<rect x="340.30" y="323.06" width="23.40" height="27.37" fill="#0000d7"/>
<rect x="363.70" y="323.06" width="15.60" height="27.37" fill="#0000b7"/>
<rect x="379.30" y="323.06" width="7.80" height="27.37" fill="#0000a7"/>
<rect x="387.10" y="323.06" width="23.40" height="27.37" fill="#0000b7"/>
<rect x="410.50" y="323.06" width="7.80" height="27.37" fill="#0008ff"/>
<rect x="418.30" y="323.06" width="23.40" height="27.37" fill="#0028ff"/>
<rect x="441.70" y="323.06" width="23.40" height="27.37" fill="#0008ff"/>
<rect x="465.10" y="323.06" width="7.80" height="27.37" fill="#0028ff"/>
<rect x="472.90" y="323.06" width="39.00" height="27.37" fill="#0008ff"/>
<rect x="511.90" y="323.06" width="7.80" height="27.37" fill="#0000c7"/>
<rect x="519.70" y="323.06" width="7.80" height="27.37" fill="#0000d7"/>
<rect x="527.50" y="323.06" width="7.80" height="27.37" fill="#0000e7"/>
<rect x="535.30" y="323.06" width="7.80" height="27.37" fill="#0000f7"/>
<rect x="543.10" y="323.06" width="31.20" height="27.37" fill="#0000e7"/>
<rect x="574.30" y="323.06" width="7.80" height="27.37" fill="#0000f7"/>
<rect x="582.10" y="323.06" width="7.80" height="27.37" fill="#0028ff"/>
<rect x="589.90" y="323.06" width="15.60" height="27.37" fill="#0008ff"/>
<rect x="605.50" y="323.06" width="7.80" height="27.37" fill="#0038ff"/>
<rect x="613.30" y="323.06" width="15.60" height="27.37" fill="#0018ff"/>
<rect x="628.90" y="323.06" width="7.80" height="27.37" fill="#0008ff"/>
<rect x="636.70" y="323.06" width="7.80" height="27.37" fill="#0018ff"/>
<rect x="644.50" y="323.06" width="7.80" height="27.37" fill="#0048ff"/>
<rect x="652.30" y="323.06" width="7.80" height="27.37" fill="#0038ff"/>
<rect x="660.10" y="323.06" width="7.80" height="27.37" fill="#0028ff"/>
<rect x="667.90" y="323.06" width="15.60" height="27.37" fill="#0058ff"/>
<rect x="683.50" y="323.06" width="15.60" height="27.37" fill="#0018ff"/>
<rect x="699.10" y="323.06" width="7.80" height="27.37" fill="#0008ff"/>
<rect x="706.90" y="323.06" width="7.80" height="27.37" fill="#0000f7"/>
<rect x="714.70" y="323.06" width="7.80" height="27.37" fill="#0000d7"/>
<rect x="722.50" y="323.06" width="7.80" height="27.37" fill="#0000a7"/>
<rect x="730.30" y="323.06" width="23.40" height="27.37" fill="#0000c7"/>
<rect x="753.70" y="323.06" width="7.80" height="27.37" fill="#0000f7"/>
<rect x="761.50" y="323.06" width="7.80" height="27.37" fill="#0000e7"/>
<rect x="769.30" y="323.06" width="7.80" height="27.37" fill="#0000d7"/>
<rect x="777.10" y="323.06" width="7.80" height="27.37" fill="#0000b7"/>
<rect x="784.90" y="323.06" width="7.80" height="27.37" fill="#0000c7"/>
<rect x="792.70" y="323.06" width="7.80" height="27.37" fill="#0000d7"/>
<rect x="800.50" y="323.06" width="7.80" height="27.37" fill="#0000c7"/>
<rect x="808.30" y="323.06" width="7.80" height="27.37" fill="#000097"/>
<rect x="816.10" y="323.06" width="15.60" height="27.37" fill="#0000a7"/>
<rect x="831.70" y="323.06" width="23.40" height="27.37" fill="#0000d7"/>
<rect x="855.10" y="323.06" width="7.80" height="27.37" fill="#0000f7"/>
<rect x="862.90" y="323.06" width="7.80" height="27.37" fill="#0000e7"/>
<rect x="870.70" y="323.06" width="7.80" height="27.37" fill="#0000c7"/>
<rect x="878.50" y="323.06" width="5.40" height="27.37" fill="#0000b7"/>
<rect x="160.90" y="349.83" width="23.40" height="27.37" fill="#0000e7"/>
<rect x="184.30" y="349.83" width="7.80" height="27.37" fill="#0000f7"/>
<rect x="192.10" y="349.83" width="7.80" height="27.37" fill="#00e7ff"/>
<rect x="199.90" y="349.83" width="7.80" height="27.37" fill="#0097ff"/>
<rect x="207.70" y="349.83" width="7.80" height="27.37" fill="#0018ff"/>
<rect x="215.50" y="349.83" width="23.40" height="27.37" fill="#0000e7"/>
<rect x="238.90" y="349.83" width="23.40" height="27.37" fill="#0000d7"/>
<rect x="262.30" y="349.83" width="7.80" height="27.37" fill="#0000f7"/>
<rect x="270.10" y="349.83" width="7.80" height="27.37" fill="#0018ff"/>
<rect x="277.90" y="349.83" width="7.80" height="27.37" fill="#0028ff"/>
<rect x="285.70" y="349.83" width="7.80" height="27.37" fill="#0000d7"/>
<rect x="293.50" y="349.83" width="7.80" height="27.37" fill="#0000b7"/>
<rect x="301.30" y="349.83" width="7.80" height="27.37" fill="#0000a7"/>
<rect x="309.10" y="349.83" width="15.60" height="27.37" fill="#0000b7"/>
<rect x="324.70" y="349.83" width="7.80" height="27.37" fill="#0000a7"/>
<rect x="332.50" y="349.83" width="7.80" height="27.37" fill="#000087"/>
<rect x="340.30" y="349.83" width="15.60" height="27.37" fill="#0000b7"/>
<rect x="355.90" y="349.83" width="15.60" height="27.37" fill="#0000c7"/>
<rect x="371.50" y="349.83" width="7.80" height="27.37" fill="#0000e7"/>
<rect x="379.30" y="349.83" width="7.80" height="27.37" fill="#0000f7"/>
<rect x="387.10" y="349.83" width="7.80" height="27.37" fill="#0018ff"/>
<rect x="394.90" y="349.83" width="15.60" height="27.37" fill="#0028ff"/>
<rect x="410.50" y="349.83" width="7.80" height="27.37" fill="#0000e7"/>
<rect x="418.30" y="349.83" width="15.60" height="27.37" fill="#0000f7"/>
<rect x="433.90" y="349.83" width="7.80" height="27.37" fill="#0008ff"/>
<rect x="441.70" y="349.83" width="7.80" height="27.37" fill="#0000d7"/>
<rect x="449.50" y="349.83" width="15.60" height="27.37" fill="#0000e7"/>
<rect x="465.10" y="349.83" width="7.80" height="27.37" fill="#0000c7"/>
<rect x="472.90" y="349.83" width="15.60" height="27.37" fill="#0000b7"/>
<rect x="488.50" y="349.83" width="7.80" height="27.37" fill="#000097"/>
<rect x="496.30" y="349.83" width="23.40" height="27.37" fill="#0000a7"/>
<rect x="519.70" y="349.83" width="23.40" height="27.37" fill="#0000d7"/>
<rect x="543.10" y="349.83" width="23.40" height="27.37" fill="#0000c7"/>
<rect x="566.50" y="349.83" width="23.40" height="27.37" fill="#0000b7"/>
<rect x="589.90" y="349.83" width="23.40" height="27.37" fill="#0018ff"/>
<rect x="613.30" y="349.83" width="7.80" height="27.37" fill="#0008ff"/>
<rect x="621.10" y="349.83" width="7.80" height="27.37" fill="#0000f7"/>
<rect x="628.90" y="349.83" width="7.80" height="27.37" fill="#0000e7"/>
<rect x="636.70" y="349.83" width="23.40" height="27.37" fill="#0000d7"/>
<rect x="660.10" y="349.83" width="7.80" height="27.37" fill="#0000c7"/>
<rect x="667.90" y="349.83" width="7.80" height="27.37" fill="#0000b7"/>
<rect x="675.70" y="349.83" width="7.80" height="27.37" fill="#0000c7"/>
<rect x="683.50" y="349.83" width="7.80" height="27.37" fill="#000097"/>
<rect x="691.30" y="349.83" width="15.60" height="27.37" fill="#0000a7"/>
<rect x="706.90" y="349.83" width="15.60" height="27.37" fill="#0000b7"/>
<rect x="722.50" y="349.83" width="7.80" height="27.37" fill="#000097"/>
<rect x="730.30" y="349.83" width="23.40" height="27.37" fill="#000087"/>
<rect x="753.70" y="349.83" width="7.80" height="27.37" fill="#000097"/>
<rect x="761.50" y="349.83" width="31.20" height="27.37" fill="#0000d7"/>
<rect x="792.70" y="349.83" width="15.60" height="27.37" fill="#0008ff"/>
<rect x="808.30" y="349.83" width="23.40" height="27.37" fill="#0000c7"/>
<rect x="831.70" y="349.83" width="23.40" height="27.37" fill="#0000d7"/>
<rect x="855.10" y="349.83" width="7.80" height="27.37" fill="#0000e7"/>
<rect x="862.90" y="349.83" width="7.80" height="27.37" fill="#0000b7"/>
<rect x="870.70" y="349.83" width="7.80" height="27.37" fill="#0000d7"/>
<rect x="878.50" y="349.83" width="5.40" height="27.37" fill="#0000b7"/>
<rect x="160.90" y="376.60" width="7.80" height="27.37" fill="#00a7ff"/>
<rect x="168.70" y="376.60" width="7.80" height="27.37" fill="#00b7ff"/>
<rect x="176.50" y="376.60" width="7.80" height="27.37" fill="#0087ff"/>
<rect x="184.30" y="376.60" width="15.60" height="27.37" fill="#00a7ff"/>
<rect x="199.90" y="376.60" width="7.80" height="27.37" fill="#0087ff"/>
<rect x="207.70" y="376.60" width="7.80" height="27.37" fill="#0068ff"/>
<rect x="215.50" y="376.60" width="15.60" height="27.37" fill="#0058ff"/>
<rect x="231.10" y="376.60" width="7.80" height="27.37" fill="#0038ff"/>
<rect x="238.90" y="376.60" width="7.80" height="27.37" fill="#0028ff"/>
<rect x="246.70" y="376.60" width="7.80" height="27.37" fill="#0068ff"/>
<rect x="254.50" y="376.60" width="7.80" height="27.37" fill="#0018ff"/>
<rect x="262.30" y="376.60" width="7.80" height="27.37" fill="#0000f7"/>
<rect x="270.10" y="376.60" width="7.80" height="27.37" fill="#0008ff"/>
<rect x="277.90" y="376.60" width="7.80" height="27.37" fill="#0000f7"/>
<rect x="285.70" y="376.60" width="15.60" height="27.37" fill="#0000e7"/>
<rect x="301.30" y="376.60" width="7.80" height="27.37" fill="#0000d7"/>
<rect x="309.10" y="376.60" width="7.80" height="27.37" fill="#0000c7"/>
<rect x="316.90" y="376.60" width="7.80" height="27.37" fill="#0000d7"/>
<rect x="324.70" y="376.60" width="7.80" height="27.37" fill="#0000c7"/>
<rect x="332.50" y="376.60" width="7.80" height="27.37" fill="#000097"/>
<rect x="340.30" y="376.60" width="15.60" height="27.37" fill="#0000a7"/>
<rect x="355.90" y="376.60" width="7.80" height="27.37" fill="#0000c7"/>
<rect x="363.70" y="376.60" width="15.60" height="27.37" fill="#0000b7"/>
<rect x="379.30" y="376.60" width="7.80" height="27.37" fill="#0000c7"/>
<rect x="387.10" y="376.60" width="23.40" height="27.37" fill="#0000b7"/>
<rect x="410.50" y="376.60" width="7.80" height="27.37" fill="#0000d7"/>
<rect x="418.30" y="376.60" width="7.80" height="27.37" fill="#0000c7"/>
<rect x="426.10" y="376.60" width="23.40" height="27.37" fill="#0000b7"/>
<rect x="449.50" y="376.60" width="15.60" height="27.37" fill="#0000a7"/>
<rect x="465.10" y="376.60" width="15.60" height="27.37" fill="#0000b7"/>
<rect x="480.70" y="376.60" width="23.40" height="27.37" fill="#0000d7"/>
<rect x="504.10" y="376.60" width="23.40" height="27.37" fill="#0000e7"/>
<rect x="527.50" y="376.60" width="15.60" height="27.37" fill="#0000c7"/>
<rect x="543.10" y="376.60" width="7.80" height="27.37" fill="#000097"/>
<rect x="550.90" y="376.60" width="23.40" height="27.37" fill="#0000b7"/>
<rect x="574.30" y="376.60" width="7.80" height="27.37" fill="#0000c7"/>
<rect x="582.10" y="376.60" width="7.80" height="27.37" fill="#0000d7"/>
<rect x="589.90" y="376.60" width="7.80" height="27.37" fill="#0000f7"/>
<rect x="597.70" y="376.60" width="7.80" height="27.37" fill="#0000e7"/>
<rect x="605.50" y="376.60" width="23.40" height="27.37" fill="#0000f7"/>
<rect x="628.90" y="376.60" width="7.80" height="27.37" fill="#0000e7"/>
<rect x="636.70" y="376.60" width="7.80" height="27.37" fill="#0000f7"/>
<rect x="644.50" y="376.60" width="7.80" height="27.37" fill="#0000d7"/>
<rect x="652.30" y="376.60" width="7.80" height="27.37" fill="#0000e7"/>
<rect x="660.10" y="376.60" width="7.80" height="27.37" fill="#0000f7"/>
<rect x="667.90" y="376.60" width="15.60" height="27.37" fill="#0008ff"/>
<rect x="683.50" y="376.60" width="7.80" height="27.37" fill="#0028ff"/>
<rect x="691.30" y="376.60" width="39.00" height="27.37" fill="#0008ff"/>
<rect x="730.30" y="376.60" width="7.80" height="27.37" fill="#0048ff"/>
<rect x="738.10" y="376.60" width="15.60" height="27.37" fill="#0000f7"/>
<rect x="753.70" y="376.60" width="7.80" height="27.37" fill="#0000e7"/>
<rect x="761.50" y="376.60" width="7.80" height="27.37" fill="#0000d7"/>
<rect x="769.30" y="376.60" width="7.80" height="27.37" fill="#0000c7"/>
<rect x="777.10" y="376.60" width="7.80" height="27.37" fill="#0000e7"/>
<rect x="784.90" y="376.60" width="15.60" height="27.37" fill="#0000c7"/>
<rect x="800.50" y="376.60" width="7.80" height="27.37" fill="#0000b7"/>
<rect x="808.30" y="376.60" width="7.80" height="27.37" fill="#0000a7"/>
<rect x="816.10" y="376.60" width="7.80" height="27.37" fill="#000087"/>
<rect x="823.90" y="376.60" width="7.80" height="27.37" fill="#000097"/>
<rect x="831.70" y="376.60" width="7.80" height="27.37" fill="#0000a7"/>
<rect x="839.50" y="376.60" width="31.20" height="27.37" fill="#0000d7"/>
<rect x="870.70" y="376.60" width="7.80" height="27.37" fill="#0000e7"/>
<rect x="878.50" y="376.60" width="5.40" height="27.37" fill="#0000d7"/>
<rect x="160.90" y="403.37" width="7.80" height="27.37" fill="#c7ff38"/>
<rect x="168.70" y="403.37" width="15.60" height="27.37" fill="#b7ff48"/>
<rect x="184.30" y="403.37" width="7.80" height="27.37" fill="#d7ff28"/>
<rect x="192.10" y="403.37" width="7.80" height="27.37" fill="#e7ff18"/>
<rect x="199.90" y="403.37" width="7.80" height="27.37" fill="#97ff68"/>
<rect x="207.70" y="403.37" width="7.80" height="27.37" fill="#18ffe7"/>
<rect x="215.50" y="403.37" width="7.80" height="27.37" fill="#00f7ff"/>
<rect x="223.30" y="403.37" width="7.80" height="27.37" fill="#00d7ff"/>
<rect x="231.10" y="403.37" width="7.80" height="27.37" fill="#0097ff"/>
<rect x="238.90" y="403.37" width="7.80" height="27.37" fill="#00a7ff"/>
<rect x="246.70" y="403.37" width="15.60" height="27.37" fill="#0087ff"/>
<rect x="262.30" y="403.37" width="7.80" height="27.37" fill="#0078ff"/>
<rect x="270.10" y="403.37" width="7.80" height="27.37" fill="#0068ff"/>
<rect x="277.90" y="403.37" width="23.40" height="27.37" fill="#0038ff"/>
<rect x="301.30" y="403.37" width="7.80" height="27.37" fill="#0028ff"/>
<rect x="309.10" y="403.37" width="7.80" height="27.37" fill="#0018ff"/>
<rect x="316.90" y="403.37" width="15.60" height="27.37" fill="#0000f7"/>
<rect x="332.50" y="403.37" width="7.80" height="27.37" fill="#0008ff"/>
<rect x="340.30" y="403.37" width="46.80" height="27.37" fill="#0018ff"/>
<rect x="387.10" y="403.37" width="7.80" height="27.37" fill="#0068ff"/>
<rect x="394.90" y="403.37" width="23.40" height="27.37" fill="#0078ff"/>
<rect x="418.30" y="403.37" width="7.80" height="27.37" fill="#0068ff"/>
<rect x="426.10" y="403.37" width="7.80" height="27.37" fill="#0087ff"/>
<rect x="433.90" y="403.37" width="7.80" height="27.37" fill="#0078ff"/>
<rect x="441.70" y="403.37" width="39.00" height="27.37" fill="#0068ff"/>
<rect x="480.70" y="403.37" width="7.80" height="27.37" fill="#0097ff"/>
<rect x="488.50" y="403.37" width="7.80" height="27.37" fill="#0078ff"/>
<rect x="496.30" y="403.37" width="7.80" height="27.37" fill="#0087ff"/>
<rect x="504.10" y="403.37" width="7.80" height="27.37" fill="#0078ff"/>
<rect x="511.90" y="403.37" width="15.60" height="27.37" fill="#0068ff"/>
<rect x="527.50" y="403.37" width="7.80" height="27.37" fill="#0058ff"/>
<rect x="535.30" y="403.37" width="7.80" height="27.37" fill="#0048ff"/>
<rect x="543.10" y="403.37" width="31.20" height="27.37" fill="#0018ff"/>
<rect x="574.30" y="403.37" width="7.80" height="27.37" fill="#0008ff"/>
<rect x="582.10" y="403.37" width="7.80" height="27.37" fill="#0038ff"/>
<rect x="589.90" y="403.37" width="23.40" height="27.37" fill="#0097ff"/>
<rect x="613.30" y="403.37" width="31.20" height="27.37" fill="#0087ff"/>
<rect x="644.50" y="403.37" width="7.80" height="27.37" fill="#0097ff"/>
<rect x="652.30" y="403.37" width="7.80" height="27.37" fill="#0078ff"/>
<rect x="660.10" y="403.37" width="15.60" height="27.37" fill="#0058ff"/>
<rect x="675.70" y="403.37" width="7.80" height="27.37" fill="#0048ff"/>
<rect x="683.50" y="403.37" width="15.60" height="27.37" fill="#0058ff"/>
<rect x="699.10" y="403.37" width="23.40" height="27.37" fill="#0078ff"/>
<rect x="722.50" y="403.37" width="7.80" height="27.37" fill="#0068ff"/>
<rect x="730.30" y="403.37" width="7.80" height="27.37" fill="#0058ff"/>
<rect x="738.10" y="403.37" width="23.40" height="27.37" fill="#0048ff"/>
<rect x="761.50" y="403.37" width="7.80" height="27.37" fill="#0038ff"/>
<rect x="769.30" y="403.37" width="7.80" height="27.37" fill="#0028ff"/>
<rect x="777.10" y="403.37" width="7.80" height="27.37" fill="#0068ff"/>
<rect x="784.90" y="403.37" width="7.80" height="27.37" fill="#0058ff"/>
<rect x="792.70" y="403.37" width="7.80" height="27.37" fill="#0078ff"/>
<rect x="800.50" y="403.37" width="15.60" height="27.37" fill="#0097ff"/>
<rect x="816.10" y="403.37" width="23.40" height="27.37" fill="#00a7ff"/>
<rect x="839.50" y="403.37" width="7.80" height="27.37" fill="#00b7ff"/>
<rect x="847.30" y="403.37" width="7.80" height="27.37" fill="#00c7ff"/>
<rect x="855.10" y="403.37" width="7.80" height="27.37" fill="#00d7ff"/>
<rect x="862.90" y="403.37" width="7.80" height="27.37" fill="#00f7ff"/>
<rect x="870.70" y="403.37" width="13.20" height="27.37" fill="#00c7ff"/>
<rect x="160.90" y="430.14" width="15.60" height="27.37" fill="#08fff7"/>
<rect x="176.50" y="430.14" width="7.80" height="27.37" fill="#00f7ff"/>
<rect x="184.30" y="430.14" width="7.80" height="27.37" fill="#68ff97"/>
<rect x="192.10" y="430.14" width="7.80" height="27.37" fill="#c7ff38"/>
<rect x="199.90" y="430.14" width="7.80" height="27.37" fill="#a7ff58"/>
<rect x="207.70" y="430.14" width="7.80" height="27.37" fill="#97ff68"/>
<rect x="215.50" y="430.14" width="7.80" height="27.37" fill="#68ff97"/>
<rect x="223.30" y="430.14" width="7.80" height="27.37" fill="#18ffe7"/>
<rect x="231.10" y="430.14" width="7.80" height="27.37" fill="#00f7ff"/>
<rect x="238.90" y="430.14" width="7.80" height="27.37" fill="#00d7ff"/>
<rect x="246.70" y="430.14" width="7.80" height="27.37" fill="#00a7ff"/>
<rect x="254.50" y="430.14" width="7.80" height="27.37" fill="#0068ff"/>
<rect x="262.30" y="430.14" width="7.80" height="27.37" fill="#0028ff"/>
<rect x="270.10" y="430.14" width="7.80" height="27.37" fill="#0008ff"/>
<rect x="277.90" y="430.14" width="23.40" height="27.37" fill="#0028ff"/>
<rect x="301.30" y="430.14" width="7.80" height="27.37" fill="#0038ff"/>
<rect x="309.10" y="430.14" width="7.80" height="27.37" fill="#0048ff"/>
<rect x="316.90" y="430.14" width="7.80" height="27.37" fill="#0058ff"/>
<rect x="324.70" y="430.14" width="7.80" height="27.37" fill="#0068ff"/>
<rect x="332.50" y="430.14" width="23.40" height="27.37" fill="#0058ff"/>
<rect x="355.90" y="430.14" width="15.60" height="27.37" fill="#0048ff"/>
<rect x="371.50" y="430.14" width="15.60" height="27.37" fill="#0078ff"/>
<rect x="387.10" y="430.14" width="7.80" height="27.37" fill="#0097ff"/>
<rect x="394.90" y="430.14" width="23.40" height="27.37" fill="#0087ff"/>
<rect x="418.30" y="430.14" width="7.80" height="27.37" fill="#00b7ff"/>
<rect x="426.10" y="430.14" width="15.60" height="27.37" fill="#00c7ff"/>
<rect x="441.70" y="430.14" width="15.60" height="27.37" fill="#00d7ff"/>
<rect x="457.30" y="430.14" width="7.80" height="27.37" fill="#00e7ff"/>
<rect x="465.10" y="430.14" width="15.60" height="27.37" fill="#00c7ff"/>
<rect x="480.70" y="430.14" width="7.80" height="27.37" fill="#00a7ff"/>
<rect x="488.50" y="430.14" width="15.60" height="27.37" fill="#0087ff"/>
<rect x="504.10" y="430.14" width="23.40" height="27.37" fill="#0097ff"/>
<rect x="527.50" y="430.14" width="15.60" height="27.37" fill="#0087ff"/>
<rect x="543.10" y="430.14" width="7.80" height="27.37" fill="#0078ff"/>
<rect x="550.90" y="430.14" width="7.80" height="27.37" fill="#0097ff"/>
<rect x="558.70" y="430.14" width="7.80" height="27.37" fill="#0068ff"/>
<rect x="566.50" y="430.14" width="7.80" height="27.37" fill="#0097ff"/>
<rect x="574.30" y="430.14" width="7.80" height="27.37" fill="#00b7ff"/>
<rect x="582.10" y="430.14" width="23.40" height="27.37" fill="#00e7ff"/>
<rect x="605.50" y="430.14" width="15.60" height="27.37" fill="#00d7ff"/>
<rect x="621.10" y="430.14" width="23.40" height="27.37" fill="#00e7ff"/>
<rect x="644.50" y="430.14" width="23.40" height="27.37" fill="#00d7ff"/>
<rect x="667.90" y="430.14" width="7.80" height="27.37" fill="#08fff7"/>
<rect x="675.70" y="430.14" width="7.80" height="27.37" fill="#28ffd7"/>
<rect x="683.50" y="430.14" width="15.60" height="27.37" fill="#18ffe7"/>
<rect x="699.10" y="430.14" width="15.60" height="27.37" fill="#38ffc7"/>
<rect x="714.70" y="430.14" width="7.80" height="27.37" fill="#48ffb7"/>
<rect x="722.50" y="430.14" width="7.80" height="27.37" fill="#58ffa7"/>
<rect x="730.30" y="430.14" width="7.80" height="27.37" fill="#87ff78"/>
<rect x="738.10" y="430.14" width="15.60" height="27.37" fill="#78ff87"/>
<rect x="753.70" y="430.14" width="7.80" height="27.37" fill="#58ffa7"/>
<rect x="761.50" y="430.14" width="7.80" height="27.37" fill="#48ffb7"/>
<rect x="769.30" y="430.14" width="31.20" height="27.37" fill="#38ffc7"/>
<rect x="800.50" y="430.14" width="7.80" height="27.37" fill="#28ffd7"/>
<rect x="808.30" y="430.14" width="7.80" height="27.37" fill="#08fff7"/>
<rect x="816.10" y="430.14" width="7.80" height="27.37" fill="#28ffd7"/>
<rect x="823.90" y="430.14" width="7.80" height="27.37" fill="#08fff7"/>
<rect x="831.70" y="430.14" width="15.60" height="27.37" fill="#38ffc7"/>
<rect x="847.30" y="430.14" width="7.80" height="27.37" fill="#28ffd7"/>
<rect x="855.10" y="430.14" width="28.80" height="27.37" fill="#48ffb7"/>
<rect x="160.90" y="456.91" width="7.80" height="27.37" fill="#a7ff58"/>
<rect x="168.70" y="456.91" width="7.80" height="27.37" fill="#97ff68"/>
<rect x="176.50" y="456.91" width="15.60" height="27.37" fill="#87ff78"/>
<rect x="192.10" y="456.91" width="7.80" height="27.37" fill="#48ffb7"/>
<rect x="199.90" y="456.91" width="7.80" height="27.37" fill="#08fff7"/>
<rect x="207.70" y="456.91" width="7.80" height="27.37" fill="#0097ff"/>
<rect x="215.50" y="456.91" width="7.80" height="27.37" fill="#08fff7"/>
<rect x="223.30" y="456.91" width="7.80" height="27.37" fill="#18ffe7"/>
<rect x="231.10" y="456.91" width="7.80" height="27.37" fill="#28ffd7"/>
<rect x="238.90" y="456.91" width="31.20" height="27.37" fill="#48ffb7"/>
<rect x="270.10" y="456.91" width="7.80" height="27.37" fill="#18ffe7"/>
<rect x="277.90" y="456.91" width="7.80" height="27.37" fill="#00f7ff"/>
<rect x="285.70" y="456.91" width="23.40" height="27.37" fill="#00c7ff"/>
<rect x="309.10" y="456.91" width="7.80" height="27.37" fill="#00a7ff"/>
<rect x="316.90" y="456.91" width="7.80" height="27.37" fill="#00c7ff"/>
<rect x="324.70" y="456.91" width="7.80" height="27.37" fill="#00b7ff"/>
<rect x="332.50" y="456.91" width="7.80" height="27.37" fill="#00f7ff"/>
<rect x="340.30" y="456.91" width="7.80" height="27.37" fill="#00b7ff"/>
<rect x="348.10" y="456.91" width="15.60" height="27.37" fill="#00c7ff"/>
<rect x="363.70" y="456.91" width="23.40" height="27.37" fill="#00b7ff"/>
<rect x="387.10" y="456.91" width="31.20" height="27.37" fill="#0087ff"/>
<rect x="418.30" y="456.91" width="7.80" height="27.37" fill="#0078ff"/>
<rect x="426.10" y="456.91" width="7.80" height="27.37" fill="#0087ff"/>
<rect x="433.90" y="456.91" width="31.20" height="27.37" fill="#00a7ff"/>
<rect x="465.10" y="456.91" width="23.40" height="27.37" fill="#0097ff"/>
<rect x="488.50" y="456.91" width="7.80" height="27.37" fill="#0087ff"/>
<rect x="496.30" y="456.91" width="15.60" height="27.37" fill="#00b7ff"/>
<rect x="511.90" y="456.91" width="15.60" height="27.37" fill="#0097ff"/>
<rect x="527.50" y="456.91" width="15.60" height="27.37" fill="#00c7ff"/>
<rect x="543.10" y="456.91" width="7.80" height="27.37" fill="#00a7ff"/>
<rect x="550.90" y="456.91" width="7.80" height="27.37" fill="#0097ff"/>
<rect x="558.70" y="456.91" width="7.80" height="27.37" fill="#00b7ff"/>
<rect x="566.50" y="456.91" width="7.80" height="27.37" fill="#0097ff"/>
<rect x="574.30" y="456.91" width="7.80" height="27.37" fill="#0078ff"/>
<rect x="582.10" y="456.91" width="15.60" height="27.37" fill="#0087ff"/>
<rect x="597.70" y="456.91" width="7.80" height="27.37" fill="#0048ff"/>
<rect x="605.50" y="456.91" width="7.80" height="27.37" fill="#0018ff"/>
<rect x="613.30" y="456.91" width="7.80" height="27.37" fill="#0028ff"/>
<rect x="621.10" y="456.91" width="7.80" height="27.37" fill="#0018ff"/>
<rect x="628.90" y="456.91" width="7.80" height="27.37" fill="#0028ff"/>
<rect x="636.70" y="456.91" width="7.80" height="27.37" fill="#0068ff"/>
<rect x="644.50" y="456.91" width="31.20" height="27.37" fill="#00a7ff"/>
<rect x="675.70" y="456.91" width="7.80" height="27.37" fill="#00b7ff"/>
<rect x="683.50" y="456.91" width="7.80" height="27.37" fill="#00a7ff"/>
<rect x="691.30" y="456.91" width="7.80" height="27.37" fill="#00b7ff"/>
<rect x="699.10" y="456.91" width="7.80" height="27.37" fill="#00d7ff"/>
<rect x="706.90" y="456.91" width="7.80" height="27.37" fill="#00e7ff"/>
<rect x="714.70" y="456.91" width="15.60" height="27.37" fill="#00d7ff"/>
<rect x="730.30" y="456.91" width="7.80" height="27.37" fill="#00e7ff"/>
<rect x="738.10" y="456.91" width="7.80" height="27.37" fill="#08fff7"/>
<rect x="745.90" y="456.91" width="15.60" height="27.37" fill="#28ffd7"/>
<rect x="761.50" y="456.91" width="7.80" height="27.37" fill="#38ffc7"/>
<rect x="769.30" y="456.91" width="7.80" height="27.37" fill="#48ffb7"/>
<rect x="777.10" y="456.91" width="15.60" height="27.37" fill="#58ffa7"/>
<rect x="792.70" y="456.91" width="23.40" height="27.37" fill="#48ffb7"/>
<rect x="816.10" y="456.91" width="15.60" height="27.37" fill="#68ff97"/>
<rect x="831.70" y="456.91" width="15.60" height="27.37" fill="#78ff87"/>
<rect x="847.30" y="456.91" width="15.60" height="27.37" fill="#68ff97"/>
<rect x="862.90" y="456.91" width="7.80" height="27.37" fill="#78ff87"/>
<rect x="870.70" y="456.91" width="13.20" height="27.37" fill="#87ff78"/>
<rect x="160.90" y="483.68" width="7.80" height="27.37" fill="#38ffc7"/>
<rect x="168.70" y="483.68" width="7.80" height="27.37" fill="#28ffd7"/>
<rect x="176.50" y="483.68" width="7.80" height="27.37" fill="#08fff7"/>
<rect x="184.30" y="483.68" width="7.80" height="27.37" fill="#58ffa7"/>
<rect x="192.10" y="483.68" width="7.80" height="27.37" fill="#87ff78"/>
<rect x="199.90" y="483.68" width="7.80" height="27.37" fill="#28ffd7"/>
<rect x="207.70" y="483.68" width="7.80" height="27.37" fill="#0087ff"/>
<rect x="215.50" y="483.68" width="7.80" height="27.37" fill="#0008ff"/>
<rect x="223.30" y="483.68" width="7.80" height="27.37" fill="#0000d7"/>
<rect x="231.10" y="483.68" width="39.00" height="27.37" fill="#000097"/>
<rect x="270.10" y="483.68" width="7.80" height="27.37" fill="#0000a7"/>
<rect x="277.90" y="483.68" width="7.80" height="27.37" fill="#0000b7"/>
<rect x="285.70" y="483.68" width="7.80" height="27.37" fill="#0000c7"/>
<rect x="293.50" y="483.68" width="46.80" height="27.37" fill="#0000d7"/>
<rect x="340.30" y="483.68" width="7.80" height="27.37" fill="#0000c7"/>
<rect x="348.10" y="483.68" width="15.60" height="27.37" fill="#0000f7"/>
<rect x="363.70" y="483.68" width="7.80" height="27.37" fill="#0000e7"/>
<rect x="371.50" y="483.68" width="15.60" height="27.37" fill="#0000f7"/>
<rect x="387.10" y="483.68" width="7.80" height="27.37" fill="#0008ff"/>
<rect x="394.90" y="483.68" width="15.60" height="27.37" fill="#0000f7"/>
<rect x="410.50" y="483.68" width="15.60" height="27.37" fill="#0028ff"/>
<rect x="426.10" y="483.68" width="23.40" height="27.37" fill="#0058ff"/>
<rect x="449.50" y="483.68" width="7.80" height="27.37" fill="#0068ff"/>
<rect x="457.30" y="483.68" width="7.80" height="27.37" fill="#0058ff"/>
<rect x="465.10" y="483.68" width="7.80" height="27.37" fill="#0078ff"/>
<rect x="472.90" y="483.68" width="7.80" height="27.37" fill="#0058ff"/>
<rect x="480.70" y="483.68" width="7.80" height="27.37" fill="#0048ff"/>
<rect x="488.50" y="483.68" width="7.80" height="27.37" fill="#0078ff"/>
<rect x="496.30" y="483.68" width="7.80" height="27.37" fill="#0048ff"/>
<rect x="504.10" y="483.68" width="7.80" height="27.37" fill="#0058ff"/>
<rect x="511.90" y="483.68" width="15.60" height="27.37" fill="#0078ff"/>
<rect x="527.50" y="483.68" width="7.80" height="27.37" fill="#0097ff"/>
<rect x="535.30" y="483.68" width="15.60" height="27.37" fill="#0087ff"/>
<rect x="550.90" y="483.68" width="15.60" height="27.37" fill="#0048ff"/>
<rect x="566.50" y="483.68" width="7.80" height="27.37" fill="#0038ff"/>
<rect x="574.30" y="483.68" width="7.80" height="27.37" fill="#0078ff"/>
<rect x="582.10" y="483.68" width="7.80" height="27.37" fill="#0058ff"/>
<rect x="589.90" y="483.68" width="7.80" height="27.37" fill="#0097ff"/>
<rect x="597.70" y="483.68" width="7.80" height="27.37" fill="#0078ff"/>
<rect x="605.50" y="483.68" width="7.80" height="27.37" fill="#0087ff"/>
<rect x="613.30" y="483.68" width="15.60" height="27.37" fill="#00a7ff"/>
<rect x="628.90" y="483.68" width="7.80" height="27.37" fill="#00b7ff"/>
<rect x="636.70" y="483.68" width="7.80" height="27.37" fill="#00c7ff"/>
<rect x="644.50" y="483.68" width="7.80" height="27.37" fill="#00f7ff"/>
<rect x="652.30" y="483.68" width="7.80" height="27.37" fill="#00d7ff"/>
<rect x="660.10" y="483.68" width="7.80" height="27.37" fill="#00c7ff"/>
<rect x="667.90" y="483.68" width="7.80" height="27.37" fill="#00a7ff"/>
<rect x="675.70" y="483.68" width="7.80" height="27.37" fill="#00b7ff"/>
<rect x="683.50" y="483.68" width="7.80" height="27.37" fill="#00a7ff"/>
<rect x="691.30" y="483.68" width="15.60" height="27.37" fill="#00b7ff"/>
<rect x="706.90" y="483.68" width="15.60" height="27.37" fill="#00d7ff"/>
<rect x="722.50" y="483.68" width="23.40" height="27.37" fill="#08fff7"/>
<rect x="745.90" y="483.68" width="7.80" height="27.37" fill="#00f7ff"/>
<rect x="753.70" y="483.68" width="7.80" height="27.37" fill="#00b7ff"/>
<rect x="761.50" y="483.68" width="7.80" height="27.37" fill="#0097ff"/>
<rect x="769.30" y="483.68" width="15.60" height="27.37" fill="#00b7ff"/>
<rect x="784.90" y="483.68" width="7.80" height="27.37" fill="#00a7ff"/>
<rect x="792.70" y="483.68" width="15.60" height="27.37" fill="#00d7ff"/>
<rect x="808.30" y="483.68" width="23.40" height="27.37" fill="#00e7ff"/>
<rect x="831.70" y="483.68" width="15.60" height="27.37" fill="#08fff7"/>
<rect x="847.30" y="483.68" width="7.80" height="27.37" fill="#00e7ff"/>
<rect x="855.10" y="483.68" width="28.80" height="27.37" fill="#00d7ff"/>
<rect x="160.90" y="510.45" width="7.80" height="27.37" fill="#0000d7"/>
<rect x="168.70" y="510.45" width="7.80" height="27.37" fill="#0000e7"/>
<rect x="176.50" y="510.45" width="7.80" height="27.37" fill="#0000f7"/>
<rect x="184.30" y="510.45" width="7.80" height="27.37" fill="#0048ff"/>
<rect x="192.10" y="510.45" width="7.80" height="27.37" fill="#00b7ff"/>
<rect x="199.90" y="510.45" width="7.80" height="27.37" fill="#0097ff"/>
<rect x="207.70" y="510.45" width="7.80" height="27.37" fill="#00a7ff"/>
<rect x="215.50" y="510.45" width="7.80" height="27.37" fill="#0078ff"/>
<rect x="223.30" y="510.45" width="7.80" height="27.37" fill="#0048ff"/>
<rect x="231.10" y="510.45" width="7.80" height="27.37" fill="#0087ff"/>
<rect x="238.90" y="510.45" width="7.80" height="27.37" fill="#0078ff"/>
<rect x="246.70" y="510.45" width="7.80" height="27.37" fill="#00a7ff"/>
<rect x="254.50" y="510.45" width="7.80" height="27.37" fill="#00e7ff"/>
<rect x="262.30" y="510.45" width="23.40" height="27.37" fill="#08fff7"/>
<rect x="285.70" y="510.45" width="7.80" height="27.37" fill="#00f7ff"/>
<rect x="293.50" y="510.45" width="7.80" height="27.37" fill="#00e7ff"/>
<rect x="301.30" y="510.45" width="15.60" height="27.37" fill="#00b7ff"/>
<rect x="316.90" y="510.45" width="15.60" height="27.37" fill="#0097ff"/>
<rect x="332.50" y="510.45" width="15.60" height="27.37" fill="#0087ff"/>
<rect x="348.10" y="510.45" width="15.60" height="27.37" fill="#0058ff"/>
<rect x="363.70" y="510.45" width="15.60" height="27.37" fill="#0048ff"/>
<rect x="379.30" y="510.45" width="7.80" height="27.37" fill="#0038ff"/>
<rect x="387.10" y="510.45" width="15.60" height="27.37" fill="#0000f7"/>
<rect x="402.70" y="510.45" width="15.60" height="27.37" fill="#0000c7"/>
<rect x="418.30" y="510.45" width="15.60" height="27.37" fill="#0000a7"/>
<rect x="433.90" y="510.45" width="7.80" height="27.37" fill="#000087"/>
<rect x="441.70" y="510.45" width="7.80" height="27.37" fill="#000097"/>
<rect x="449.50" y="510.45" width="15.60" height="27.37" fill="#0000b7"/>
<rect x="465.10" y="510.45" width="7.80" height="27.37" fill="#0000d7"/>
<rect x="472.90" y="510.45" width="7.80" height="27.37" fill="#0008ff"/>
<rect x="480.70" y="510.45" width="7.80" height="27.37" fill="#0000f7"/>
<rect x="488.50" y="510.45" width="7.80" height="27.37" fill="#0000d7"/>
<rect x="496.30" y="510.45" width="54.60" height="27.37" fill="#0000e7"/>
<rect x="550.90" y="510.45" width="7.80" height="27.37" fill="#0000d7"/>
<rect x="558.70" y="510.45" width="7.80" height="27.37" fill="#0028ff"/>
<rect x="566.50" y="510.45" width="7.80" height="27.37" fill="#0078ff"/>
<rect x="574.30" y="510.45" width="7.80" height="27.37" fill="#0087ff"/>
<rect x="582.10" y="510.45" width="15.60" height="27.37" fill="#0068ff"/>
<rect x="597.70" y="510.45" width="7.80" height="27.37" fill="#0078ff"/>
<rect x="605.50" y="510.45" width="7.80" height="27.37" fill="#0097ff"/>
<rect x="613.30" y="510.45" width="7.80" height="27.37" fill="#00c7ff"/>
<rect x="621.10" y="510.45" width="7.80" height="27.37" fill="#00f7ff"/>
<rect x="628.90" y="510.45" width="7.80" height="27.37" fill="#00e7ff"/>
<rect x="636.70" y="510.45" width="7.80" height="27.37" fill="#00f7ff"/>
<rect x="644.50" y="510.45" width="7.80" height="27.37" fill="#00d7ff"/>
<rect x="652.30" y="510.45" width="15.60" height="27.37" fill="#00b7ff"/>
<rect x="667.90" y="510.45" width="7.80" height="27.37" fill="#00c7ff"/>
<rect x="675.70" y="510.45" width="7.80" height="27.37" fill="#00b7ff"/>
<rect x="683.50" y="510.45" width="15.60" height="27.37" fill="#0078ff"/>
<rect x="699.10" y="510.45" width="7.80" height="27.37" fill="#0087ff"/>
<rect x="706.90" y="510.45" width="7.80" height="27.37" fill="#00a7ff"/>
<rect x="714.70" y="510.45" width="7.80" height="27.37" fill="#00d7ff"/>
<rect x="722.50" y="510.45" width="15.60" height="27.37" fill="#00b7ff"/>
<rect x="738.10" y="510.45" width="15.60" height="27.37" fill="#00a7ff"/>
<rect x="753.70" y="510.45" width="7.80" height="27.37" fill="#0087ff"/>
<rect x="761.50" y="510.45" width="7.80" height="27.37" fill="#00a7ff"/>
<rect x="769.30" y="510.45" width="7.80" height="27.37" fill="#00b7ff"/>
<rect x="777.10" y="510.45" width="7.80" height="27.37" fill="#00e7ff"/>
<rect x="784.90" y="510.45" width="15.60" height="27.37" fill="#08fff7"/>
<rect x="800.50" y="510.45" width="7.80" height="27.37" fill="#00b7ff"/>
<rect x="808.30" y="510.45" width="39.00" height="27.37" fill="#0097ff"/>
<rect x="847.30" y="510.45" width="7.80" height="27.37" fill="#00b7ff"/>
<rect x="855.10" y="510.45" width="7.80" height="27.37" fill="#00a7ff"/>
<rect x="862.90" y="510.45" width="7.80" height="27.37" fill="#0087ff"/>
<rect x="870.70" y="510.45" width="13.20" height="27.37" fill="#00a7ff"/>
<rect x="160.90" y="537.22" width="7.80" height="27.37" fill="#0000c7"/>
<rect x="168.70" y="537.22" width="15.60" height="27.37" fill="#0000f7"/>
<rect x="184.30" y="537.22" width="7.80" height="27.37" fill="#0048ff"/>
<rect x="192.10" y="537.22" width="7.80" height="27.37" fill="#0078ff"/>
<rect x="199.90" y="537.22" width="7.80" height="27.37" fill="#0087ff"/>
<rect x="207.70" y="537.22" width="15.60" height="27.37" fill="#0048ff"/>
<rect x="223.30" y="537.22" width="7.80" height="27.37" fill="#0028ff"/>
<rect x="231.10" y="537.22" width="7.80" height="27.37" fill="#0018ff"/>
<rect x="238.90" y="537.22" width="15.60" height="27.37" fill="#0008ff"/>
<rect x="254.50" y="537.22" width="7.80" height="27.37" fill="#0028ff"/>
<rect x="262.30" y="537.22" width="7.80" height="27.37" fill="#0058ff"/>
<rect x="270.10" y="537.22" width="7.80" height="27.37" fill="#0097ff"/>
<rect x="277.90" y="537.22" width="7.80" height="27.37" fill="#00a7ff"/>
<rect x="285.70" y="537.22" width="7.80" height="27.37" fill="#00b7ff"/>
<rect x="293.50" y="537.22" width="15.60" height="27.37" fill="#00a7ff"/>
<rect x="309.10" y="537.22" width="7.80" height="27.37" fill="#0087ff"/>
<rect x="316.90" y="537.22" width="7.80" height="27.37" fill="#0058ff"/>
<rect x="324.70" y="537.22" width="7.80" height="27.37" fill="#0028ff"/>
<rect x="332.50" y="537.22" width="7.80" height="27.37" fill="#0018ff"/>
<rect x="340.30" y="537.22" width="7.80" height="27.37" fill="#0000e7"/>
<rect x="348.10" y="537.22" width="15.60" height="27.37" fill="#0000a7"/>
<rect x="363.70" y="537.22" width="7.80" height="27.37" fill="#0000f7"/>
<rect x="371.50" y="537.22" width="7.80" height="27.37" fill="#0018ff"/>
<rect x="379.30" y="537.22" width="7.80" height="27.37" fill="#0068ff"/>
<rect x="387.10" y="537.22" width="7.80" height="27.37" fill="#0078ff"/>
<rect x="394.90" y="537.22" width="7.80" height="27.37" fill="#0097ff"/>
<rect x="402.70" y="537.22" width="23.40" height="27.37" fill="#0087ff"/>
<rect x="426.10" y="537.22" width="23.40" height="27.37" fill="#0058ff"/>
<rect x="449.50" y="537.22" width="7.80" height="27.37" fill="#0068ff"/>
<rect x="457.30" y="537.22" width="15.60" height="27.37" fill="#0097ff"/>
<rect x="472.90" y="537.22" width="15.60" height="27.37" fill="#0087ff"/>
<rect x="488.50" y="537.22" width="7.80" height="27.37" fill="#0078ff"/>
<rect x="496.30" y="537.22" width="7.80" height="27.37" fill="#00c7ff"/>
<rect x="504.10" y="537.22" width="7.80" height="27.37" fill="#08fff7"/>
<rect x="511.90" y="537.22" width="15.60" height="27.37" fill="#28ffd7"/>
<rect x="527.50" y="537.22" width="7.80" height="27.37" fill="#48ffb7"/>
<rect x="535.30" y="537.22" width="7.80" height="27.37" fill="#28ffd7"/>
<rect x="543.10" y="537.22" width="7.80" height="27.37" fill="#00f7ff"/>
<rect x="550.90" y="537.22" width="15.60" height="27.37" fill="#00b7ff"/>
<rect x="566.50" y="537.22" width="7.80" height="27.37" fill="#0097ff"/>
<rect x="574.30" y="537.22" width="7.80" height="27.37" fill="#00d7ff"/>
<rect x="582.10" y="537.22" width="7.80" height="27.37" fill="#00b7ff"/>
<rect x="589.90" y="537.22" width="23.40" height="27.37" fill="#00d7ff"/>
<rect x="613.30" y="537.22" width="7.80" height="27.37" fill="#08fff7"/>
<rect x="621.10" y="537.22" width="7.80" height="27.37" fill="#18ffe7"/>
<rect x="628.90" y="537.22" width="7.80" height="27.37" fill="#08fff7"/>
<rect x="636.70" y="537.22" width="7.80" height="27.37" fill="#00f7ff"/>
<rect x="644.50" y="537.22" width="7.80" height="27.37" fill="#00e7ff"/>
<rect x="652.30" y="537.22" width="7.80" height="27.37" fill="#00c7ff"/>
<rect x="660.10" y="537.22" width="7.80" height="27.37" fill="#0097ff"/>
<rect x="667.90" y="537.22" width="23.40" height="27.37" fill="#0078ff"/>
<rect x="691.30" y="537.22" width="31.20" height="27.37" fill="#00a7ff"/>
<rect x="722.50" y="537.22" width="15.60" height="27.37" fill="#00b7ff"/>
<rect x="738.10" y="537.22" width="15.60" height="27.37" fill="#00c7ff"/>
<rect x="753.70" y="537.22" width="7.80" height="27.37" fill="#00d7ff"/>
<rect x="761.50" y="537.22" width="23.40" height="27.37" fill="#00c7ff"/>
<rect x="784.90" y="537.22" width="7.80" height="27.37" fill="#00a7ff"/>
<rect x="792.70" y="537.22" width="7.80" height="27.37" fill="#0087ff"/>
<rect x="800.50" y="537.22" width="7.80" height="27.37" fill="#00b7ff"/>
<rect x="808.30" y="537.22" width="7.80" height="27.37" fill="#00c7ff"/>
<rect x="816.10" y="537.22" width="7.80" height="27.37" fill="#00b7ff"/>
<rect x="823.90" y="537.22" width="7.80" height="27.37" fill="#00e7ff"/>
<rect x="831.70" y="537.22" width="15.60" height="27.37" fill="#00f7ff"/>
<rect x="847.30" y="537.22" width="7.80" height="27.37" fill="#00d7ff"/>
<rect x="855.10" y="537.22" width="7.80" height="27.37" fill="#00f7ff"/>
<rect x="862.90" y="537.22" width="7.80" height="27.37" fill="#00d7ff"/>
<rect x="870.70" y="537.22" width="13.20" height="27.37" fill="#00c7ff"/>
<rect x="160.90" y="563.99" width="15.60" height="27.37" fill="#0000a7"/>
<rect x="176.50" y="563.99" width="7.80" height="27.37" fill="#0000b7"/>
<rect x="184.30" y="563.99" width="7.80" height="27.37" fill="#0008ff"/>
<rect x="192.10" y="563.99" width="15.60" height="27.37" fill="#0048ff"/>
<rect x="207.70" y="563.99" width="7.80" height="27.37" fill="#0038ff"/>
<rect x="215.50" y="563.99" width="15.60" height="27.37" fill="#0008ff"/>
<rect x="231.10" y="563.99" width="7.80" height="27.37" fill="#0018ff"/>
<rect x="238.90" y="563.99" width="39.00" height="27.37" fill="#0000f7"/>
<rect x="277.90" y="563.99" width="15.60" height="27.37" fill="#0028ff"/>
<rect x="293.50" y="563.99" width="7.80" height="27.37" fill="#0068ff"/>
<rect x="301.30" y="563.99" width="15.60" height="27.37" fill="#0048ff"/>
<rect x="316.90" y="563.99" width="7.80" height="27.37" fill="#0018ff"/>
<rect x="324.70" y="563.99" width="23.40" height="27.37" fill="#0008ff"/>
<rect x="348.10" y="563.99" width="7.80" height="27.37" fill="#0000e7"/>
<rect x="355.90" y="563.99" width="15.60" height="27.37" fill="#000097"/>
<rect x="371.50" y="563.99" width="7.80" height="27.37" fill="#0000a7"/>
<rect x="379.30" y="563.99" width="7.80" height="27.37" fill="#0000b7"/>
<rect x="387.10" y="563.99" width="7.80" height="27.37" fill="#0000d7"/>
<rect x="394.90" y="563.99" width="7.80" height="27.37" fill="#0018ff"/>
<rect x="402.70" y="563.99" width="7.80" height="27.37" fill="#0058ff"/>
<rect x="410.50" y="563.99" width="7.80" height="27.37" fill="#0087ff"/>
<rect x="418.30" y="563.99" width="7.80" height="27.37" fill="#0078ff"/>
<rect x="426.10" y="563.99" width="7.80" height="27.37" fill="#0087ff"/>
<rect x="433.90" y="563.99" width="7.80" height="27.37" fill="#0078ff"/>
<rect x="441.70" y="563.99" width="7.80" height="27.37" fill="#0068ff"/>
<rect x="449.50" y="563.99" width="39.00" height="27.37" fill="#0078ff"/>
<rect x="488.50" y="563.99" width="23.40" height="27.37" fill="#00d7ff"/>
<rect x="511.90" y="563.99" width="15.60" height="27.37" fill="#08fff7"/>
<rect x="527.50" y="563.99" width="7.80" height="27.37" fill="#00f7ff"/>
<rect x="535.30" y="563.99" width="7.80" height="27.37" fill="#0097ff"/>
<rect x="543.10" y="563.99" width="7.80" height="27.37" fill="#0058ff"/>
<rect x="550.90" y="563.99" width="31.20" height="27.37" fill="#0048ff"/>
<rect x="582.10" y="563.99" width="7.80" height="27.37" fill="#0058ff"/>
<rect x="589.90" y="563.99" width="23.40" height="27.37" fill="#0087ff"/>
<rect x="613.30" y="563.99" width="7.80" height="27.37" fill="#00a7ff"/>
<rect x="621.10" y="563.99" width="7.80" height="27.37" fill="#00b7ff"/>
<rect x="628.90" y="563.99" width="7.80" height="27.37" fill="#0097ff"/>
<rect x="636.70" y="563.99" width="7.80" height="27.37" fill="#00b7ff"/>
<rect x="644.50" y="563.99" width="7.80" height="27.37" fill="#00a7ff"/>
<rect x="652.30" y="563.99" width="7.80" height="27.37" fill="#0087ff"/>
<rect x="660.10" y="563.99" width="7.80" height="27.37" fill="#0038ff"/>
<rect x="667.90" y="563.99" width="7.80" height="27.37" fill="#0028ff"/>
<rect x="675.70" y="563.99" width="7.80" height="27.37" fill="#0018ff"/>
<rect x="683.50" y="563.99" width="7.80" height="27.37" fill="#0028ff"/>
<rect x="691.30" y="563.99" width="15.60" height="27.37" fill="#0008ff"/>
<rect x="706.90" y="563.99" width="7.80" height="27.37" fill="#0058ff"/>
<rect x="714.70" y="563.99" width="7.80" height="27.37" fill="#0038ff"/>
<rect x="722.50" y="563.99" width="15.60" height="27.37" fill="#0058ff"/>
<rect x="738.10" y="563.99" width="7.80" height="27.37" fill="#0068ff"/>
<rect x="745.90" y="563.99" width="7.80" height="27.37" fill="#0018ff"/>
<rect x="753.70" y="563.99" width="7.80" height="27.37" fill="#0068ff"/>
<rect x="761.50" y="563.99" width="7.80" height="27.37" fill="#0028ff"/>
<rect x="769.30" y="563.99" width="7.80" height="27.37" fill="#0048ff"/>
<rect x="777.10" y="563.99" width="7.80" height="27.37" fill="#0058ff"/>
<rect x="784.90" y="563.99" width="15.60" height="27.37" fill="#0068ff"/>
<rect x="800.50" y="563.99" width="7.80" height="27.37" fill="#0078ff"/>
<rect x="808.30" y="563.99" width="7.80" height="27.37" fill="#0058ff"/>
<rect x="816.10" y="563.99" width="7.80" height="27.37" fill="#0038ff"/>
<rect x="823.90" y="563.99" width="15.60" height="27.37" fill="#0028ff"/>
<rect x="839.50" y="563.99" width="15.60" height="27.37" fill="#0048ff"/>
<rect x="855.10" y="563.99" width="7.80" height="27.37" fill="#0058ff"/>
<rect x="862.90" y="563.99" width="7.80" height="27.37" fill="#0097ff"/>
<rect x="870.70" y="563.99" width="7.80" height="27.37" fill="#00a7ff"/>
<rect x="878.50" y="563.99" width="5.40" height="27.37" fill="#00b7ff"/>
<rect x="160.90" y="590.76" width="7.80" height="27.37" fill="#0000e7"/>
<rect x="168.70" y="590.76" width="7.80" height="27.37" fill="#0008ff"/>
<rect x="176.50" y="590.76" width="7.80" height="27.37" fill="#0038ff"/>
<rect x="184.30" y="590.76" width="7.80" height="27.37" fill="#0048ff"/>
<rect x="192.10" y="590.76" width="7.80" height="27.37" fill="#0078ff"/>
<rect x="199.90" y="590.76" width="23.40" height="27.37" fill="#00e7ff"/>
<rect x="223.30" y="590.76" width="7.80" height="27.37" fill="#00b7ff"/>
<rect x="231.10" y="590.76" width="7.80" height="27.37" fill="#00a7ff"/>
<rect x="238.90" y="590.76" width="7.80" height="27.37" fill="#0087ff"/>
<rect x="246.70" y="590.76" width="7.80" height="27.37" fill="#0068ff"/>
<rect x="254.50" y="590.76" width="7.80" height="27.37" fill="#0048ff"/>
<rect x="262.30" y="590.76" width="7.80" height="27.37" fill="#0028ff"/>
<rect x="270.10" y="590.76" width="15.60" height="27.37" fill="#0000f7"/>
<rect x="285.70" y="590.76" width="7.80" height="27.37" fill="#0008ff"/>
<rect x="293.50" y="590.76" width="7.80" height="27.37" fill="#0000f7"/>
<rect x="301.30" y="590.76" width="7.80" height="27.37" fill="#0018ff"/>
<rect x="309.10" y="590.76" width="15.60" height="27.37" fill="#0000f7"/>
<rect x="324.70" y="590.76" width="23.40" height="27.37" fill="#0000d7"/>
<rect x="348.10" y="590.76" width="7.80" height="27.37" fill="#0018ff"/>
<rect x="355.90" y="590.76" width="7.80" height="27.37" fill="#0038ff"/>
<rect x="363.70" y="590.76" width="15.60" height="27.37" fill="#0008ff"/>
<rect x="379.30" y="590.76" width="7.80" height="27.37" fill="#0000e7"/>
<rect x="387.10" y="590.76" width="7.80" height="27.37" fill="#0000f7"/>
<rect x="394.90" y="590.76" width="7.80" height="27.37" fill="#0000e7"/>
<rect x="402.70" y="590.76" width="7.80" height="27.37" fill="#0008ff"/>
<rect x="410.50" y="590.76" width="31.20" height="27.37" fill="#0038ff"/>
<rect x="441.70" y="590.76" width="7.80" height="27.37" fill="#0058ff"/>
<rect x="449.50" y="590.76" width="7.80" height="27.37" fill="#0078ff"/>
<rect x="457.30" y="590.76" width="23.40" height="27.37" fill="#0097ff"/>
<rect x="480.70" y="590.76" width="7.80" height="27.37" fill="#00a7ff"/>
<rect x="488.50" y="590.76" width="15.60" height="27.37" fill="#00b7ff"/>
<rect x="504.10" y="590.76" width="7.80" height="27.37" fill="#00c7ff"/>
<rect x="511.90" y="590.76" width="15.60" height="27.37" fill="#00b7ff"/>
<rect x="527.50" y="590.76" width="15.60" height="27.37" fill="#0097ff"/>
<rect x="543.10" y="590.76" width="7.80" height="27.37" fill="#00a7ff"/>
<rect x="550.90" y="590.76" width="7.80" height="27.37" fill="#0097ff"/>
<rect x="558.70" y="590.76" width="7.80" height="27.37" fill="#00b7ff"/>
<rect x="566.50" y="590.76" width="7.80" height="27.37" fill="#08fff7"/>
<rect x="574.30" y="590.76" width="23.40" height="27.37" fill="#18ffe7"/>
<rect x="597.70" y="590.76" width="7.80" height="27.37" fill="#28ffd7"/>
<rect x="605.50" y="590.76" width="15.60" height="27.37" fill="#08fff7"/>
<rect x="621.10" y="590.76" width="23.40" height="27.37" fill="#18ffe7"/>
<rect x="644.50" y="590.76" width="15.60" height="27.37" fill="#48ffb7"/>
<rect x="660.10" y="590.76" width="7.80" height="27.37" fill="#58ffa7"/>
<rect x="667.90" y="590.76" width="7.80" height="27.37" fill="#48ffb7"/>
<rect x="675.70" y="590.76" width="7.80" height="27.37" fill="#58ffa7"/>
<rect x="683.50" y="590.76" width="7.80" height="27.37" fill="#78ff87"/>
<rect x="691.30" y="590.76" width="15.60" height="27.37" fill="#87ff78"/>
<rect x="706.90" y="590.76" width="7.80" height="27.37" fill="#97ff68"/>
<rect x="714.70" y="590.76" width="7.80" height="27.37" fill="#a7ff58"/>
<rect x="722.50" y="590.76" width="7.80" height="27.37" fill="#b7ff48"/>
<rect x="730.30" y="590.76" width="39.00" height="27.37" fill="#c7ff38"/>
<rect x="769.30" y="590.76" width="7.80" height="27.37" fill="#b7ff48"/>
<rect x="777.10" y="590.76" width="7.80" height="27.37" fill="#97ff68"/>
<rect x="784.90" y="590.76" width="7.80" height="27.37" fill="#a7ff58"/>
<rect x="792.70" y="590.76" width="7.80" height="27.37" fill="#b7ff48"/>
<rect x="800.50" y="590.76" width="7.80" height="27.37" fill="#c7ff38"/>
<rect x="808.30" y="590.76" width="7.80" height="27.37" fill="#e7ff18"/>
<rect x="816.10" y="590.76" width="15.60" height="27.37" fill="#fff700"/>
<rect x="831.70" y="590.76" width="7.80" height="27.37" fill="#f7ff08"/>
<rect x="839.50" y="590.76" width="44.40" height="27.37" fill="#fff700"/>
<rect x="160.90" y="617.53" width="23.40" height="27.37" fill="#0000d7"/>
<rect x="184.30" y="617.53" width="7.80" height="27.37" fill="#0018ff"/>
<rect x="192.10" y="617.53" width="15.60" height="27.37" fill="#0000f7"/>
<rect x="207.70" y="617.53" width="46.80" height="27.37" fill="#0048ff"/>
<rect x="254.50" y="617.53" width="15.60" height="27.37" fill="#0028ff"/>
<rect x="270.10" y="617.53" width="15.60" height="27.37" fill="#0058ff"/>
<rect x="285.70" y="617.53" width="7.80" height="27.37" fill="#0028ff"/>
<rect x="293.50" y="617.53" width="15.60" height="27.37" fill="#0000f7"/>
<rect x="309.10" y="617.53" width="23.40" height="27.37" fill="#0000b7"/>
<rect x="332.50" y="617.53" width="7.80" height="27.37" fill="#0000a7"/>
<rect x="340.30" y="617.53" width="7.80" height="27.37" fill="#0000b7"/>
<rect x="348.10" y="617.53" width="15.60" height="27.37" fill="#0000c7"/>
<rect x="363.70" y="617.53" width="7.80" height="27.37" fill="#0000d7"/>
<rect x="371.50" y="617.53" width="7.80" height="27.37" fill="#0000c7"/>
<rect x="379.30" y="617.53" width="7.80" height="27.37" fill="#0000f7"/>
<rect x="387.10" y="617.53" width="7.80" height="27.37" fill="#0000d7"/>
<rect x="394.90" y="617.53" width="15.60" height="27.37" fill="#0000a7"/>
<rect x="410.50" y="617.53" width="7.80" height="27.37" fill="#0000b7"/>
<rect x="418.30" y="617.53" width="7.80" height="27.37" fill="#0000c7"/>
<rect x="426.10" y="617.53" width="15.60" height="27.37" fill="#000097"/>
<rect x="441.70" y="617.53" width="7.80" height="27.37" fill="#0000d7"/>
<rect x="449.50" y="617.53" width="7.80" height="27.37" fill="#0000f7"/>
<rect x="457.30" y="617.53" width="7.80" height="27.37" fill="#0000e7"/>
<rect x="465.10" y="617.53" width="7.80" height="27.37" fill="#0000c7"/>
<rect x="472.90" y="617.53" width="15.60" height="27.37" fill="#0000e7"/>
<rect x="488.50" y="617.53" width="7.80" height="27.37" fill="#0028ff"/>
<rect x="496.30" y="617.53" width="7.80" height="27.37" fill="#0000f7"/>
<rect x="504.10" y="617.53" width="7.80" height="27.37" fill="#0000e7"/>
<rect x="511.90" y="617.53" width="15.60" height="27.37" fill="#0000f7"/>
<rect x="527.50" y="617.53" width="15.60" height="27.37" fill="#0000b7"/>
<rect x="543.10" y="617.53" width="23.40" height="27.37" fill="#0008ff"/>
<rect x="566.50" y="617.53" width="15.60" height="27.37" fill="#0018ff"/>
<rect x="582.10" y="617.53" width="7.80" height="27.37" fill="#0000a7"/>
<rect x="589.90" y="617.53" width="7.80" height="27.37" fill="#0058ff"/>
<rect x="597.70" y="617.53" width="7.80" height="27.37" fill="#0038ff"/>
<rect x="605.50" y="617.53" width="15.60" height="27.37" fill="#0028ff"/>
<rect x="621.10" y="617.53" width="7.80" height="27.37" fill="#0048ff"/>
<rect x="628.90" y="617.53" width="7.80" height="27.37" fill="#0038ff"/>
<rect x="636.70" y="617.53" width="15.60" height="27.37" fill="#0000f7"/>
<rect x="652.30" y="617.53" width="15.60" height="27.37" fill="#0028ff"/>
<rect x="667.90" y="617.53" width="7.80" height="27.37" fill="#0000f7"/>
<rect x="675.70" y="617.53" width="7.80" height="27.37" fill="#0000c7"/>
<rect x="683.50" y="617.53" width="7.80" height="27.37" fill="#0000d7"/>
<rect x="691.30" y="617.53" width="7.80" height="27.37" fill="#0008ff"/>
<rect x="699.10" y="617.53" width="7.80" height="27.37" fill="#0000f7"/>
<rect x="706.90" y="617.53" width="7.80" height="27.37" fill="#0000c7"/>
<rect x="714.70" y="617.53" width="39.00" height="27.37" fill="#0000a7"/>
<rect x="753.70" y="617.53" width="15.60" height="27.37" fill="#000097"/>
<rect x="769.30" y="617.53" width="15.60" height="27.37" fill="#0000b7"/>
<rect x="784.90" y="617.53" width="7.80" height="27.37" fill="#0000a7"/>
<rect x="792.70" y="617.53" width="15.60" height="27.37" fill="#000097"/>
<rect x="808.30" y="617.53" width="7.80" height="27.37" fill="#0000b7"/>
<rect x="816.10" y="617.53" width="7.80" height="27.37" fill="#0000a7"/>
<rect x="823.90" y="617.53" width="60.00" height="27.37" fill="#000097"/>
<rect x="160.90" y="644.30" width="15.60" height="27.37" fill="#000097"/>
<rect x="176.50" y="644.30" width="7.80" height="27.37" fill="#0008ff"/>
<rect x="184.30" y="644.30" width="15.60" height="27.37" fill="#0078ff"/>
<rect x="199.90" y="644.30" width="7.80" height="27.37" fill="#0087ff"/>
<rect x="207.70" y="644.30" width="7.80" height="27.37" fill="#00d7ff"/>
<rect x="215.50" y="644.30" width="7.80" height="27.37" fill="#00c7ff"/>
<rect x="223.30" y="644.30" width="15.60" height="27.37" fill="#00e7ff"/>
<rect x="238.90" y="644.30" width="7.80" height="27.37" fill="#00c7ff"/>
<rect x="246.70" y="644.30" width="7.80" height="27.37" fill="#0048ff"/>
<rect x="254.50" y="644.30" width="15.60" height="27.37" fill="#0028ff"/>
<rect x="270.10" y="644.30" width="23.40" height="27.37" fill="#0000f7"/>
<rect x="293.50" y="644.30" width="7.80" height="27.37" fill="#0028ff"/>
<rect x="301.30" y="644.30" width="7.80" height="27.37" fill="#0058ff"/>
<rect x="309.10" y="644.30" width="15.60" height="27.37" fill="#0087ff"/>
<rect x="324.70" y="644.30" width="7.80" height="27.37" fill="#00b7ff"/>
<rect x="332.50" y="644.30" width="23.40" height="27.37" fill="#00a7ff"/>
<rect x="355.90" y="644.30" width="23.40" height="27.37" fill="#0087ff"/>
<rect x="379.30" y="644.30" width="7.80" height="27.37" fill="#0078ff"/>
<rect x="387.10" y="644.30" width="15.60" height="27.37" fill="#0068ff"/>
<rect x="402.70" y="644.30" width="15.60" height="27.37" fill="#0048ff"/>
<rect x="418.30" y="644.30" width="7.80" height="27.37" fill="#0038ff"/>
<rect x="426.10" y="644.30" width="7.80" height="27.37" fill="#0008ff"/>
<rect x="433.90" y="644.30" width="23.40" height="27.37" fill="#0018ff"/>
<rect x="457.30" y="644.30" width="7.80" height="27.37" fill="#0028ff"/>
<rect x="465.10" y="644.30" width="7.80" height="27.37" fill="#0018ff"/>
<rect x="472.90" y="644.30" width="7.80" height="27.37" fill="#0008ff"/>
<rect x="480.70" y="644.30" width="7.80" height="27.37" fill="#0000f7"/>
<rect x="488.50" y="644.30" width="7.80" height="27.37" fill="#0000b7"/>
<rect x="496.30" y="644.30" width="15.60" height="27.37" fill="#0000e7"/>
<rect x="511.90" y="644.30" width="15.60" height="27.37" fill="#0008ff"/>
<rect x="527.50" y="644.30" width="7.80" height="27.37" fill="#0028ff"/>
<rect x="535.30" y="644.30" width="7.80" height="27.37" fill="#0018ff"/>
<rect x="543.10" y="644.30" width="7.80" height="27.37" fill="#0008ff"/>
<rect x="550.90" y="644.30" width="7.80" height="27.37" fill="#0058ff"/>
<rect x="558.70" y="644.30" width="7.80" height="27.37" fill="#0078ff"/>
<rect x="566.50" y="644.30" width="7.80" height="27.37" fill="#0097ff"/>
<rect x="574.30" y="644.30" width="7.80" height="27.37" fill="#00a7ff"/>
<rect x="582.10" y="644.30" width="7.80" height="27.37" fill="#0038ff"/>
<rect x="589.90" y="644.30" width="7.80" height="27.37" fill="#0000c7"/>
<rect x="597.70" y="644.30" width="23.40" height="27.37" fill="#0000d7"/>
<rect x="621.10" y="644.30" width="7.80" height="27.37" fill="#0008ff"/>
<rect x="628.90" y="644.30" width="7.80" height="27.37" fill="#0018ff"/>
<rect x="636.70" y="644.30" width="7.80" height="27.37" fill="#0008ff"/>
<rect x="644.50" y="644.30" width="15.60" height="27.37" fill="#0018ff"/>
<rect x="660.10" y="644.30" width="7.80" height="27.37" fill="#0028ff"/>
<rect x="667.90" y="644.30" width="15.60" height="27.37" fill="#0000b7"/>
<rect x="683.50" y="644.30" width="15.60" height="27.37" fill="#0000a7"/>
<rect x="699.10" y="644.30" width="15.60" height="27.37" fill="#0000b7"/>
<rect x="714.70" y="644.30" width="7.80" height="27.37" fill="#0008ff"/>
<rect x="722.50" y="644.30" width="7.80" height="27.37" fill="#0038ff"/>
<rect x="730.30" y="644.30" width="7.80" height="27.37" fill="#0048ff"/>
<rect x="738.10" y="644.30" width="7.80" height="27.37" fill="#0058ff"/>
<rect x="745.90" y="644.30" width="7.80" height="27.37" fill="#0028ff"/>
<rect x="753.70" y="644.30" width="7.80" height="27.37" fill="#0018ff"/>
<rect x="761.50" y="644.30" width="7.80" height="27.37" fill="#0000e7"/>
<rect x="769.30" y="644.30" width="23.40" height="27.37" fill="#0087ff"/>
<rect x="792.70" y="644.30" width="7.80" height="27.37" fill="#0078ff"/>
<rect x="800.50" y="644.30" width="7.80" height="27.37" fill="#0068ff"/>
<rect x="808.30" y="644.30" width="7.80" height="27.37" fill="#0018ff"/>
<rect x="816.10" y="644.30" width="7.80" height="27.37" fill="#0008ff"/>
<rect x="823.90" y="644.30" width="15.60" height="27.37" fill="#0000c7"/>
<rect x="839.50" y="644.30" width="15.60" height="27.37" fill="#0000b7"/>
<rect x="855.10" y="644.30" width="15.60" height="27.37" fill="#0000a7"/>
<rect x="870.70" y="644.30" width="7.80" height="27.37" fill="#0000c7"/>
<rect x="878.50" y="644.30" width="5.40" height="27.37" fill="#0000d7"/>
<rect x="160.90" y="671.07" width="15.60" height="27.37" fill="#d7ff28"/>
<rect x="176.50" y="671.07" width="7.80" height="27.37" fill="#a7ff58"/>
<rect x="184.30" y="671.07" width="7.80" height="27.37" fill="#b7ff48"/>
<rect x="192.10" y="671.07" width="7.80" height="27.37" fill="#a7ff58"/>
<rect x="199.90" y="671.07" width="7.80" height="27.37" fill="#58ffa7"/>
<rect x="207.70" y="671.07" width="7.80" height="27.37" fill="#00d7ff"/>
<rect x="215.50" y="671.07" width="7.80" height="27.37" fill="#0078ff"/>
<rect x="223.30" y="671.07" width="7.80" height="27.37" fill="#0097ff"/>
<rect x="231.10" y="671.07" width="7.80" height="27.37" fill="#0048ff"/>
<rect x="238.90" y="671.07" width="15.60" height="27.37" fill="#0028ff"/>
<rect x="254.50" y="671.07" width="15.60" height="27.37" fill="#0048ff"/>
<rect x="270.10" y="671.07" width="15.60" height="27.37" fill="#0058ff"/>
<rect x="285.70" y="671.07" width="15.60" height="27.37" fill="#0048ff"/>
<rect x="301.30" y="671.07" width="7.80" height="27.37" fill="#0018ff"/>
<rect x="309.10" y="671.07" width="15.60" height="27.37" fill="#0008ff"/>
<rect x="324.70" y="671.07" width="7.80" height="27.37" fill="#0018ff"/>
<rect x="332.50" y="671.07" width="15.60" height="27.37" fill="#0028ff"/>
<rect x="348.10" y="671.07" width="15.60" height="27.37" fill="#0048ff"/>
<rect x="363.70" y="671.07" width="23.40" height="27.37" fill="#0008ff"/>
<rect x="387.10" y="671.07" width="7.80" height="27.37" fill="#0000f7"/>
<rect x="394.90" y="671.07" width="15.60" height="27.37" fill="#0000c7"/>
<rect x="410.50" y="671.07" width="23.40" height="27.37" fill="#0000d7"/>
<rect x="433.90" y="671.07" width="7.80" height="27.37" fill="#0000c7"/>
<rect x="441.70" y="671.07" width="7.80" height="27.37" fill="#0000b7"/>
<rect x="449.50" y="671.07" width="7.80" height="27.37" fill="#0000a7"/>
<rect x="457.30" y="671.07" width="7.80" height="27.37" fill="#000097"/>
<rect x="465.10" y="671.07" width="7.80" height="27.37" fill="#0000a7"/>
<rect x="472.90" y="671.07" width="7.80" height="27.37" fill="#0000b7"/>
<rect x="480.70" y="671.07" width="7.80" height="27.37" fill="#0000c7"/>
<rect x="488.50" y="671.07" width="7.80" height="27.37" fill="#0008ff"/>
<rect x="496.30" y="671.07" width="7.80" height="27.37" fill="#0000f7"/>
<rect x="504.10" y="671.07" width="7.80" height="27.37" fill="#0008ff"/>
<rect x="511.90" y="671.07" width="15.60" height="27.37" fill="#0038ff"/>
<rect x="527.50" y="671.07" width="15.60" height="27.37" fill="#0018ff"/>
<rect x="543.10" y="671.07" width="7.80" height="27.37" fill="#0058ff"/>
<rect x="550.90" y="671.07" width="7.80" height="27.37" fill="#0078ff"/>
<rect x="558.70" y="671.07" width="15.60" height="27.37" fill="#0038ff"/>
<rect x="574.30" y="671.07" width="15.60" height="27.37" fill="#0018ff"/>
<rect x="589.90" y="671.07" width="7.80" height="27.37" fill="#0038ff"/>
<rect x="597.70" y="671.07" width="15.60" height="27.37" fill="#0058ff"/>
<rect x="613.30" y="671.07" width="7.80" height="27.37" fill="#0087ff"/>
<rect x="621.10" y="671.07" width="15.60" height="27.37" fill="#0097ff"/>
<rect x="636.70" y="671.07" width="15.60" height="27.37" fill="#00b7ff"/>
<rect x="652.30" y="671.07" width="7.80" height="27.37" fill="#00c7ff"/>
<rect x="660.10" y="671.07" width="7.80" height="27.37" fill="#0097ff"/>
<rect x="667.90" y="671.07" width="23.40" height="27.37" fill="#00a7ff"/>
<rect x="691.30" y="671.07" width="7.80" height="27.37" fill="#0087ff"/>
<rect x="699.10" y="671.07" width="7.80" height="27.37" fill="#00a7ff"/>
<rect x="706.90" y="671.07" width="15.60" height="27.37" fill="#00e7ff"/>
<rect x="722.50" y="671.07" width="15.60" height="27.37" fill="#00d7ff"/>
<rect x="738.10" y="671.07" width="7.80" height="27.37" fill="#00b7ff"/>
<rect x="745.90" y="671.07" width="7.80" height="27.37" fill="#00c7ff"/>
<rect x="753.70" y="671.07" width="31.20" height="27.37" fill="#00e7ff"/>
<rect x="784.90" y="671.07" width="7.80" height="27.37" fill="#00a7ff"/>
<rect x="792.70" y="671.07" width="7.80" height="27.37" fill="#0097ff"/>
<rect x="800.50" y="671.07" width="7.80" height="27.37" fill="#0078ff"/>
<rect x="808.30" y="671.07" width="23.40" height="27.37" fill="#00a7ff"/>
<rect x="831.70" y="671.07" width="7.80" height="27.37" fill="#00c7ff"/>
<rect x="839.50" y="671.07" width="7.80" height="27.37" fill="#18ffe7"/>
<rect x="847.30" y="671.07" width="7.80" height="27.37" fill="#08fff7"/>
<rect x="855.10" y="671.07" width="15.60" height="27.37" fill="#00f7ff"/>
<rect x="870.70" y="671.07" width="13.20" height="27.37" fill="#18ffe7"/>
<rect x="160.90" y="697.84" width="15.60" height="27.37" fill="#ff9700"/>
<rect x="176.50" y="697.84" width="7.80" height="27.37" fill="#ffb700"/>
<rect x="184.30" y="697.84" width="7.80" height="27.37" fill="#ff9700"/>
<rect x="192.10" y="697.84" width="7.80" height="27.37" fill="#ffc700"/>
<rect x="199.90" y="697.84" width="7.80" height="27.37" fill="#f7ff08"/>
<rect x="207.70" y="697.84" width="31.20" height="27.37" fill="#c7ff38"/>
<rect x="238.90" y="697.84" width="15.60" height="27.37" fill="#d7ff28"/>
<rect x="254.50" y="697.84" width="7.80" height="27.37" fill="#f7ff08"/>
<rect x="262.30" y="697.84" width="15.60" height="27.37" fill="#e7ff18"/>
<rect x="277.90" y="697.84" width="15.60" height="27.37" fill="#d7ff28"/>
<rect x="293.50" y="697.84" width="15.60" height="27.37" fill="#c7ff38"/>
<rect x="309.10" y="697.84" width="7.80" height="27.37" fill="#87ff78"/>
<rect x="316.90" y="697.84" width="7.80" height="27.37" fill="#68ff97"/>
<rect x="324.70" y="697.84" width="7.80" height="27.37" fill="#28ffd7"/>
<rect x="332.50" y="697.84" width="7.80" height="27.37" fill="#08fff7"/>
<rect x="340.30" y="697.84" width="23.40" height="27.37" fill="#00e7ff"/>
<rect x="363.70" y="697.84" width="31.20" height="27.37" fill="#08fff7"/>
<rect x="394.90" y="697.84" width="15.60" height="27.37" fill="#28ffd7"/>
<rect x="410.50" y="697.84" width="7.80" height="27.37" fill="#48ffb7"/>
<rect x="418.30" y="697.84" width="15.60" height="27.37" fill="#68ff97"/>
<rect x="433.90" y="697.84" width="7.80" height="27.37" fill="#58ffa7"/>
<rect x="441.70" y="697.84" width="7.80" height="27.37" fill="#28ffd7"/>
<rect x="449.50" y="697.84" width="7.80" height="27.37" fill="#08fff7"/>
<rect x="457.30" y="697.84" width="7.80" height="27.37" fill="#00d7ff"/>
<rect x="465.10" y="697.84" width="7.80" height="27.37" fill="#00a7ff"/>
<rect x="472.90" y="697.84" width="7.80" height="27.37" fill="#00f7ff"/>
<rect x="480.70" y="697.84" width="7.80" height="27.37" fill="#28ffd7"/>
<rect x="488.50" y="697.84" width="7.80" height="27.37" fill="#38ffc7"/>
<rect x="496.30" y="697.84" width="31.20" height="27.37" fill="#48ffb7"/>
<rect x="527.50" y="697.84" width="15.60" height="27.37" fill="#00b7ff"/>
<rect x="543.10" y="697.84" width="15.60" height="27.37" fill="#00e7ff"/>
<rect x="558.70" y="697.84" width="7.80" height="27.37" fill="#00d7ff"/>
<rect x="566.50" y="697.84" width="7.80" height="27.37" fill="#00e7ff"/>
<rect x="574.30" y="697.84" width="7.80" height="27.37" fill="#18ffe7"/>
<rect x="582.10" y="697.84" width="7.80" height="27.37" fill="#08fff7"/>
<rect x="589.90" y="697.84" width="7.80" height="27.37" fill="#00f7ff"/>
<rect x="597.70" y="697.84" width="7.80" height="27.37" fill="#08fff7"/>
<rect x="605.50" y="697.84" width="7.80" height="27.37" fill="#38ffc7"/>
<rect x="613.30" y="697.84" width="15.60" height="27.37" fill="#78ff87"/>
<rect x="628.90" y="697.84" width="7.80" height="27.37" fill="#87ff78"/>
<rect x="636.70" y="697.84" width="7.80" height="27.37" fill="#97ff68"/>
<rect x="644.50" y="697.84" width="7.80" height="27.37" fill="#b7ff48"/>
<rect x="652.30" y="697.84" width="15.60" height="27.37" fill="#68ff97"/>
<rect x="667.90" y="697.84" width="7.80" height="27.37" fill="#78ff87"/>
<rect x="675.70" y="697.84" width="7.80" height="27.37" fill="#87ff78"/>
<rect x="683.50" y="697.84" width="7.80" height="27.37" fill="#97ff68"/>
<rect x="691.30" y="697.84" width="7.80" height="27.37" fill="#87ff78"/>
<rect x="699.10" y="697.84" width="23.40" height="27.37" fill="#a7ff58"/>
<rect x="722.50" y="697.84" width="23.40" height="27.37" fill="#58ffa7"/>
<rect x="745.90" y="697.84" width="7.80" height="27.37" fill="#78ff87"/>
<rect x="753.70" y="697.84" width="23.40" height="27.37" fill="#58ffa7"/>
<rect x="777.10" y="697.84" width="7.80" height="27.37" fill="#48ffb7"/>
<rect x="784.90" y="697.84" width="7.80" height="27.37" fill="#38ffc7"/>
<rect x="792.70" y="697.84" width="7.80" height="27.37" fill="#08fff7"/>
<rect x="800.50" y="697.84" width="7.80" height="27.37" fill="#18ffe7"/>
<rect x="808.30" y="697.84" width="23.40" height="27.37" fill="#38ffc7"/>
<rect x="831.70" y="697.84" width="7.80" height="27.37" fill="#48ffb7"/>
<rect x="839.50" y="697.84" width="15.60" height="27.37" fill="#58ffa7"/>
<rect x="855.10" y="697.84" width="7.80" height="27.37" fill="#18ffe7"/>
<rect x="862.90" y="697.84" width="7.80" height="27.37" fill="#48ffb7"/>
<rect x="870.70" y="697.84" width="13.20" height="27.37" fill="#28ffd7"/>
<rect x="160.90" y="724.61" width="7.80" height="27.37" fill="#ffc700"/>
<rect x="168.70" y="724.61" width="7.80" height="27.37" fill="#ffb700"/>
<rect x="176.50" y="724.61" width="7.80" height="27.37" fill="#ff9700"/>
<rect x="184.30" y="724.61" width="7.80" height="27.37" fill="#ffc700"/>
<rect x="192.10" y="724.61" width="7.80" height="27.37" fill="#fff700"/>
<rect x="199.90" y="724.61" width="7.80" height="27.37" fill="#a7ff58"/>
<rect x="207.70" y="724.61" width="7.80" height="27.37" fill="#97ff68"/>
<rect x="215.50" y="724.61" width="7.80" height="27.37" fill="#48ffb7"/>
<rect x="223.30" y="724.61" width="7.80" height="27.37" fill="#08fff7"/>
<rect x="231.10" y="724.61" width="15.60" height="27.37" fill="#00f7ff"/>
<rect x="246.70" y="724.61" width="7.80" height="27.37" fill="#08fff7"/>
<rect x="254.50" y="724.61" width="7.80" height="27.37" fill="#58ffa7"/>
<rect x="262.30" y="724.61" width="7.80" height="27.37" fill="#78ff87"/>
<rect x="270.10" y="724.61" width="31.20" height="27.37" fill="#97ff68"/>
<rect x="301.30" y="724.61" width="7.80" height="27.37" fill="#58ffa7"/>
<rect x="309.10" y="724.61" width="15.60" height="27.37" fill="#28ffd7"/>
<rect x="324.70" y="724.61" width="7.80" height="27.37" fill="#18ffe7"/>
<rect x="332.50" y="724.61" width="15.60" height="27.37" fill="#28ffd7"/>
<rect x="348.10" y="724.61" width="7.80" height="27.37" fill="#08fff7"/>
<rect x="355.90" y="724.61" width="7.80" height="27.37" fill="#00e7ff"/>
<rect x="363.70" y="724.61" width="7.80" height="27.37" fill="#00c7ff"/>
<rect x="371.50" y="724.61" width="7.80" height="27.37" fill="#00a7ff"/>
<rect x="379.30" y="724.61" width="39.00" height="27.37" fill="#0087ff"/>
<rect x="418.30" y="724.61" width="39.00" height="27.37" fill="#0097ff"/>
<rect x="457.30" y="724.61" width="7.80" height="27.37" fill="#00c7ff"/>
<rect x="465.10" y="724.61" width="7.80" height="27.37" fill="#00b7ff"/>
<rect x="472.90" y="724.61" width="7.80" height="27.37" fill="#00c7ff"/>
<rect x="480.70" y="724.61" width="7.80" height="27.37" fill="#00a7ff"/>
<rect x="488.50" y="724.61" width="7.80" height="27.37" fill="#00f7ff"/>
<rect x="496.30" y="724.61" width="7.80" height="27.37" fill="#00d7ff"/>
<rect x="504.10" y="724.61" width="23.40" height="27.37" fill="#00e7ff"/>
<rect x="527.50" y="724.61" width="23.40" height="27.37" fill="#00d7ff"/>
<rect x="550.90" y="724.61" width="23.40" height="27.37" fill="#08fff7"/>
<rect x="574.30" y="724.61" width="23.40" height="27.37" fill="#00d7ff"/>
<rect x="597.70" y="724.61" width="7.80" height="27.37" fill="#00c7ff"/>
<rect x="605.50" y="724.61" width="15.60" height="27.37" fill="#00e7ff"/>
<rect x="621.10" y="724.61" width="7.80" height="27.37" fill="#00d7ff"/>
<rect x="628.90" y="724.61" width="7.80" height="27.37" fill="#00c7ff"/>
<rect x="636.70" y="724.61" width="23.40" height="27.37" fill="#00b7ff"/>
<rect x="660.10" y="724.61" width="15.60" height="27.37" fill="#00c7ff"/>
<rect x="675.70" y="724.61" width="7.80" height="27.37" fill="#00d7ff"/>
<rect x="683.50" y="724.61" width="7.80" height="27.37" fill="#00c7ff"/>
<rect x="691.30" y="724.61" width="39.00" height="27.37" fill="#00e7ff"/>
<rect x="730.30" y="724.61" width="7.80" height="27.37" fill="#00c7ff"/>
<rect x="738.10" y="724.61" width="7.80" height="27.37" fill="#00d7ff"/>
<rect x="745.90" y="724.61" width="15.60" height="27.37" fill="#08fff7"/>
<rect x="761.50" y="724.61" width="23.40" height="27.37" fill="#00e7ff"/>
<rect x="784.90" y="724.61" width="15.60" height="27.37" fill="#00d7ff"/>
<rect x="800.50" y="724.61" width="23.40" height="27.37" fill="#08fff7"/>
<rect x="823.90" y="724.61" width="31.20" height="27.37" fill="#28ffd7"/>
<rect x="855.10" y="724.61" width="15.60" height="27.37" fill="#18ffe7"/>
<rect x="870.70" y="724.61" width="13.20" height="27.37" fill="#08fff7"/>
<rect x="160.90" y="751.38" width="15.60" height="27.37" fill="#00c7ff"/>
<rect x="176.50" y="751.38" width="15.60" height="27.37" fill="#00b7ff"/>
<rect x="192.10" y="751.38" width="7.80" height="27.37" fill="#00c7ff"/>
<rect x="199.90" y="751.38" width="15.60" height="27.37" fill="#00a7ff"/>
<rect x="215.50" y="751.38" width="7.80" height="27.37" fill="#00b7ff"/>
<rect x="223.30" y="751.38" width="7.80" height="27.37" fill="#00c7ff"/>
<rect x="231.10" y="751.38" width="7.80" height="27.37" fill="#00b7ff"/>
<rect x="238.90" y="751.38" width="7.80" height="27.37" fill="#00a7ff"/>
<rect x="246.70" y="751.38" width="7.80" height="27.37" fill="#0087ff"/>
<rect x="254.50" y="751.38" width="7.80" height="27.37" fill="#0048ff"/>
<rect x="262.30" y="751.38" width="7.80" height="27.37" fill="#0000e7"/>
<rect x="270.10" y="751.38" width="7.80" height="27.37" fill="#0000b7"/>
<rect x="277.90" y="751.38" width="7.80" height="27.37" fill="#0008ff"/>
<rect x="285.70" y="751.38" width="7.80" height="27.37" fill="#0038ff"/>
<rect x="293.50" y="751.38" width="7.80" height="27.37" fill="#0097ff"/>
<rect x="301.30" y="751.38" width="7.80" height="27.37" fill="#00d7ff"/>
<rect x="309.10" y="751.38" width="7.80" height="27.37" fill="#00e7ff"/>
<rect x="316.90" y="751.38" width="7.80" height="27.37" fill="#00c7ff"/>
<rect x="324.70" y="751.38" width="7.80" height="27.37" fill="#0058ff"/>
<rect x="332.50" y="751.38" width="7.80" height="27.37" fill="#0000d7"/>
<rect x="340.30" y="751.38" width="7.80" height="27.37" fill="#000087"/>
<rect x="348.10" y="751.38" width="7.80" height="27.37" fill="#0000c7"/>
<rect x="355.90" y="751.38" width="7.80" height="27.37" fill="#0018ff"/>
<rect x="363.70" y="751.38" width="7.80" height="27.37" fill="#0048ff"/>
<rect x="371.50" y="751.38" width="7.80" height="27.37" fill="#0078ff"/>
<rect x="379.30" y="751.38" width="23.40" height="27.37" fill="#0087ff"/>
<rect x="402.70" y="751.38" width="7.80" height="27.37" fill="#0078ff"/>
<rect x="410.50" y="751.38" width="7.80" height="27.37" fill="#0097ff"/>
<rect x="418.30" y="751.38" width="23.40" height="27.37" fill="#0087ff"/>
<rect x="441.70" y="751.38" width="7.80" height="27.37" fill="#0068ff"/>
<rect x="449.50" y="751.38" width="7.80" height="27.37" fill="#0058ff"/>
<rect x="457.30" y="751.38" width="7.80" height="27.37" fill="#0078ff"/>
<rect x="465.10" y="751.38" width="7.80" height="27.37" fill="#18ffe7"/>
<rect x="472.90" y="751.38" width="7.80" height="27.37" fill="#28ffd7"/>
<rect x="480.70" y="751.38" width="7.80" height="27.37" fill="#38ffc7"/>
<rect x="488.50" y="751.38" width="15.60" height="27.37" fill="#48ffb7"/>
<rect x="504.10" y="751.38" width="7.80" height="27.37" fill="#0097ff"/>
<rect x="511.90" y="751.38" width="7.80" height="27.37" fill="#0000a7"/>
<rect x="519.70" y="751.38" width="23.40" height="27.37" fill="#000097"/>
<rect x="543.10" y="751.38" width="7.80" height="27.37" fill="#0000b7"/>
<rect x="550.90" y="751.38" width="7.80" height="27.37" fill="#0000e7"/>
<rect x="558.70" y="751.38" width="31.20" height="27.37" fill="#0000c7"/>
<rect x="589.90" y="751.38" width="7.80" height="27.37" fill="#0008ff"/>
<rect x="597.70" y="751.38" width="7.80" height="27.37" fill="#0018ff"/>
<rect x="605.50" y="751.38" width="15.60" height="27.37" fill="#0058ff"/>
<rect x="621.10" y="751.38" width="7.80" height="27.37" fill="#0068ff"/>
<rect x="628.90" y="751.38" width="7.80" height="27.37" fill="#0038ff"/>
<rect x="636.70" y="751.38" width="23.40" height="27.37" fill="#0058ff"/>
<rect x="660.10" y="751.38" width="7.80" height="27.37" fill="#0048ff"/>
<rect x="667.90" y="751.38" width="23.40" height="27.37" fill="#0028ff"/>
<rect x="691.30" y="751.38" width="7.80" height="27.37" fill="#0048ff"/>
<rect x="699.10" y="751.38" width="7.80" height="27.37" fill="#0008ff"/>
<rect x="706.90" y="751.38" width="7.80" height="27.37" fill="#0018ff"/>
<rect x="714.70" y="751.38" width="7.80" height="27.37" fill="#0000f7"/>
<rect x="722.50" y="751.38" width="7.80" height="27.37" fill="#0000e7"/>
<rect x="730.30" y="751.38" width="7.80" height="27.37" fill="#0008ff"/>
<rect x="738.10" y="751.38" width="15.60" height="27.37" fill="#0038ff"/>
<rect x="753.70" y="751.38" width="7.80" height="27.37" fill="#0028ff"/>
<rect x="761.50" y="751.38" width="7.80" height="27.37" fill="#0038ff"/>
<rect x="769.30" y="751.38" width="7.80" height="27.37" fill="#0028ff"/>
<rect x="777.10" y="751.38" width="7.80" height="27.37" fill="#00f7ff"/>
<rect x="784.90" y="751.38" width="7.80" height="27.37" fill="#a7ff58"/>
<rect x="792.70" y="751.38" width="7.80" height="27.37" fill="#e7ff18"/>
<rect x="800.50" y="751.38" width="15.60" height="27.37" fill="#fff700"/>
<rect x="816.10" y="751.38" width="7.80" height="27.37" fill="#f7ff08"/>
<rect x="823.90" y="751.38" width="7.80" height="27.37" fill="#87ff78"/>
<rect x="831.70" y="751.38" width="7.80" height="27.37" fill="#00a7ff"/>
<rect x="839.50" y="751.38" width="7.80" height="27.37" fill="#0008ff"/>
<rect x="847.30" y="751.38" width="7.80" height="27.37" fill="#0048ff"/>
<rect x="855.10" y="751.38" width="7.80" height="27.37" fill="#0058ff"/>
<rect x="862.90" y="751.38" width="7.80" height="27.37" fill="#0097ff"/>
<rect x="870.70" y="751.38" width="13.20" height="27.37" fill="#00c7ff"/>
<rect x="160.90" y="778.15" width="7.80" height="27.37" fill="#ffe700"/>
<rect x="168.70" y="778.15" width="15.60" height="27.37" fill="#f7ff08"/>
<rect x="184.30" y="778.15" width="7.80" height="27.37" fill="#ffe700"/>
<rect x="192.10" y="778.15" width="7.80" height="27.37" fill="#e7ff18"/>
<rect x="199.90" y="778.15" width="7.80" height="27.37" fill="#87ff78"/>
<rect x="207.70" y="778.15" width="7.80" height="27.37" fill="#08fff7"/>
<rect x="215.50" y="778.15" width="7.80" height="27.37" fill="#00e7ff"/>
<rect x="223.30" y="778.15" width="15.60" height="27.37" fill="#08fff7"/>
<rect x="238.90" y="778.15" width="15.60" height="27.37" fill="#28ffd7"/>
<rect x="254.50" y="778.15" width="7.80" height="27.37" fill="#38ffc7"/>
<rect x="262.30" y="778.15" width="15.60" height="27.37" fill="#28ffd7"/>
<rect x="277.90" y="778.15" width="7.80" height="27.37" fill="#38ffc7"/>
<rect x="285.70" y="778.15" width="7.80" height="27.37" fill="#18ffe7"/>
<rect x="293.50" y="778.15" width="7.80" height="27.37" fill="#08fff7"/>
<rect x="301.30" y="778.15" width="7.80" height="27.37" fill="#00c7ff"/>
<rect x="309.10" y="778.15" width="7.80" height="27.37" fill="#0087ff"/>
<rect x="316.90" y="778.15" width="7.80" height="27.37" fill="#0068ff"/>
<rect x="324.70" y="778.15" width="7.80" height="27.37" fill="#0048ff"/>
<rect x="332.50" y="778.15" width="7.80" height="27.37" fill="#0028ff"/>
<rect x="340.30" y="778.15" width="15.60" height="27.37" fill="#0008ff"/>
<rect x="355.90" y="778.15" width="15.60" height="27.37" fill="#0000b7"/>
<rect x="371.50" y="778.15" width="7.80" height="27.37" fill="#0000d7"/>
<rect x="379.30" y="778.15" width="7.80" height="27.37" fill="#0000e7"/>
<rect x="387.10" y="778.15" width="7.80" height="27.37" fill="#0008ff"/>
<rect x="394.90" y="778.15" width="7.80" height="27.37" fill="#0038ff"/>
<rect x="402.70" y="778.15" width="23.40" height="27.37" fill="#0068ff"/>
<rect x="426.10" y="778.15" width="23.40" height="27.37" fill="#0058ff"/>
<rect x="449.50" y="778.15" width="15.60" height="27.37" fill="#0048ff"/>
<rect x="465.10" y="778.15" width="7.80" height="27.37" fill="#0058ff"/>
<rect x="472.90" y="778.15" width="39.00" height="27.37" fill="#0028ff"/>
<rect x="511.90" y="778.15" width="23.40" height="27.37" fill="#0008ff"/>
<rect x="535.30" y="778.15" width="7.80" height="27.37" fill="#0038ff"/>
<rect x="543.10" y="778.15" width="15.60" height="27.37" fill="#0048ff"/>
<rect x="558.70" y="778.15" width="7.80" height="27.37" fill="#0038ff"/>
<rect x="566.50" y="778.15" width="15.60" height="27.37" fill="#0058ff"/>
<rect x="582.10" y="778.15" width="7.80" height="27.37" fill="#0068ff"/>
<rect x="589.90" y="778.15" width="7.80" height="27.37" fill="#0078ff"/>
<rect x="597.70" y="778.15" width="15.60" height="27.37" fill="#0087ff"/>
<rect x="613.30" y="778.15" width="7.80" height="27.37" fill="#0078ff"/>
<rect x="621.10" y="778.15" width="7.80" height="27.37" fill="#0097ff"/>
<rect x="628.90" y="778.15" width="31.20" height="27.37" fill="#00f7ff"/>
<rect x="660.10" y="778.15" width="7.80" height="27.37" fill="#08fff7"/>
<rect x="667.90" y="778.15" width="7.80" height="27.37" fill="#00e7ff"/>
<rect x="675.70" y="778.15" width="31.20" height="27.37" fill="#00b7ff"/>
<rect x="706.90" y="778.15" width="7.80" height="27.37" fill="#00e7ff"/>
<rect x="714.70" y="778.15" width="15.60" height="27.37" fill="#00b7ff"/>
<rect x="730.30" y="778.15" width="7.80" height="27.37" fill="#00a7ff"/>
<rect x="738.10" y="778.15" width="7.80" height="27.37" fill="#0097ff"/>
<rect x="745.90" y="778.15" width="7.80" height="27.37" fill="#00a7ff"/>
<rect x="753.70" y="778.15" width="31.20" height="27.37" fill="#0087ff"/>
<rect x="784.90" y="778.15" width="7.80" height="27.37" fill="#0097ff"/>
<rect x="792.70" y="778.15" width="7.80" height="27.37" fill="#00b7ff"/>
<rect x="800.50" y="778.15" width="7.80" height="27.37" fill="#0087ff"/>
<rect x="808.30" y="778.15" width="15.60" height="27.37" fill="#0097ff"/>
<rect x="823.90" y="778.15" width="46.80" height="27.37" fill="#0087ff"/>
<rect x="870.70" y="778.15" width="13.20" height="27.37" fill="#00a7ff"/>
<rect x="160.90" y="804.92" width="7.80" height="27.37" fill="#d7ff28"/>
<rect x="168.70" y="804.92" width="7.80" height="27.37" fill="#c7ff38"/>
<rect x="176.50" y="804.92" width="7.80" height="27.37" fill="#a7ff58"/>
<rect x="184.30" y="804.92" width="7.80" height="27.37" fill="#e7ff18"/>
<rect x="192.10" y="804.92" width="7.80" height="27.37" fill="#fff700"/>
<rect x="199.90" y="804.92" width="7.80" height="27.37" fill="#97ff68"/>
<rect x="207.70" y="804.92" width="7.80" height="27.37" fill="#68ff97"/>
<rect x="215.50" y="804.92" width="15.60" height="27.37" fill="#58ffa7"/>
<rect x="231.10" y="804.92" width="7.80" height="27.37" fill="#38ffc7"/>
<rect x="238.90" y="804.92" width="7.80" height="27.37" fill="#28ffd7"/>
<rect x="246.70" y="804.92" width="7.80" height="27.37" fill="#08fff7"/>
<rect x="254.50" y="804.92" width="7.80" height="27.37" fill="#00f7ff"/>
<rect x="262.30" y="804.92" width="7.80" height="27.37" fill="#00b7ff"/>
<rect x="270.10" y="804.92" width="7.80" height="27.37" fill="#00a7ff"/>
<rect x="277.90" y="804.92" width="7.80" height="27.37" fill="#0078ff"/>
<rect x="285.70" y="804.92" width="7.80" height="27.37" fill="#0038ff"/>
<rect x="293.50" y="804.92" width="23.40" height="27.37" fill="#0018ff"/>
<rect x="316.90" y="804.92" width="15.60" height="27.37" fill="#0000f7"/>
<rect x="332.50" y="804.92" width="7.80" height="27.37" fill="#0000b7"/>
<rect x="340.30" y="804.92" width="7.80" height="27.37" fill="#0000a7"/>
<rect x="348.10" y="804.92" width="7.80" height="27.37" fill="#0000d7"/>
<rect x="355.90" y="804.92" width="7.80" height="27.37" fill="#0008ff"/>
<rect x="363.70" y="804.92" width="7.80" height="27.37" fill="#0028ff"/>
<rect x="371.50" y="804.92" width="70.20" height="27.37" fill="#0078ff"/>
<rect x="441.70" y="804.92" width="7.80" height="27.37" fill="#0068ff"/>
<rect x="449.50" y="804.92" width="7.80" height="27.37" fill="#0078ff"/>
<rect x="457.30" y="804.92" width="7.80" height="27.37" fill="#0087ff"/>
<rect x="465.10" y="804.92" width="15.60" height="27.37" fill="#00c7ff"/>
<rect x="480.70" y="804.92" width="15.60" height="27.37" fill="#00d7ff"/>
<rect x="496.30" y="804.92" width="15.60" height="27.37" fill="#00b7ff"/>
<rect x="511.90" y="804.92" width="23.40" height="27.37" fill="#00a7ff"/>
<rect x="535.30" y="804.92" width="23.40" height="27.37" fill="#00b7ff"/>
<rect x="558.70" y="804.92" width="7.80" height="27.37" fill="#0078ff"/>
<rect x="566.50" y="804.92" width="7.80" height="27.37" fill="#0058ff"/>
<rect x="574.30" y="804.92" width="7.80" height="27.37" fill="#0068ff"/>
<rect x="582.10" y="804.92" width="39.00" height="27.37" fill="#0058ff"/>
<rect x="621.10" y="804.92" width="7.80" height="27.37" fill="#0048ff"/>
<rect x="628.90" y="804.92" width="15.60" height="27.37" fill="#0018ff"/>
<rect x="644.50" y="804.92" width="7.80" height="27.37" fill="#0068ff"/>
<rect x="652.30" y="804.92" width="7.80" height="27.37" fill="#0048ff"/>
<rect x="660.10" y="804.92" width="7.80" height="27.37" fill="#00f7ff"/>
<rect x="667.90" y="804.92" width="7.80" height="27.37" fill="#ffd700"/>
<rect x="675.70" y="804.92" width="23.40" height="27.37" fill="#ffa700"/>
<rect x="699.10" y="804.92" width="7.80" height="27.37" fill="#ff9700"/>
<rect x="706.90" y="804.92" width="7.80" height="27.37" fill="#78ff87"/>
<rect x="714.70" y="804.92" width="31.20" height="27.37" fill="#0008ff"/>
<rect x="745.90" y="804.92" width="7.80" height="27.37" fill="#0028ff"/>
<rect x="753.70" y="804.92" width="15.60" height="27.37" fill="#0038ff"/>
<rect x="769.30" y="804.92" width="15.60" height="27.37" fill="#0000f7"/>
<rect x="784.90" y="804.92" width="7.80" height="27.37" fill="#0000e7"/>
<rect x="792.70" y="804.92" width="7.80" height="27.37" fill="#0000d7"/>
<rect x="800.50" y="804.92" width="7.80" height="27.37" fill="#0000b7"/>
<rect x="808.30" y="804.92" width="7.80" height="27.37" fill="#0000c7"/>
<rect x="816.10" y="804.92" width="7.80" height="27.37" fill="#0000b7"/>
<rect x="823.90" y="804.92" width="15.60" height="27.37" fill="#0000e7"/>
<rect x="839.50" y="804.92" width="7.80" height="27.37" fill="#0000f7"/>
<rect x="847.30" y="804.92" width="7.80" height="27.37" fill="#0018ff"/>
<rect x="855.10" y="804.92" width="7.80" height="27.37" fill="#0008ff"/>
<rect x="862.90" y="804.92" width="7.80" height="27.37" fill="#0000f7"/>
<rect x="870.70" y="804.92" width="13.20" height="27.37" fill="#0000e7"/>
<rect x="155" y="427.5" width="735" height="7.4" fill="#fff"/>
<rect x="155" y="668.5" width="735" height="7.8" fill="#fff"/>
<rect x="155" y="831.8" width="735" height="6" fill="#fff"/>
</g>
<rect x="159.4" y="109" width="1.5" height="318" fill="#9a9a9a"/>
<rect x="159.4" y="435" width="1.5" height="233" fill="#9a9a9a"/>
<rect x="159.4" y="676.5" width="1.5" height="155.5" fill="#9a9a9a"/>
<rect x="159.2" y="107.3" width="3.2" height="1.6" fill="#111"/>
<rect x="882.9" y="832.0" width="4.2" height="1.8" fill="#111"/>
<rect x="740.1" y="62" width="1.2" height="5" fill="#8c8c8c"/>
<text x="165.2" y="876.6" font-size="42.3" text-anchor="middle" fill="#000">0</text>
<text x="322.9" y="876.6" font-size="42.3" text-anchor="middle" fill="#000">20</text>
<text x="482.6" y="876.6" font-size="42.3" text-anchor="middle" fill="#000">40</text>
<text x="643.5" y="876.6" font-size="42.3" text-anchor="middle" fill="#000">60</text>
<text x="803.7" y="876.6" font-size="42.3" text-anchor="middle" fill="#000">80</text>
<text y="924.7" font-size="35.8" fill="#000"><tspan x="430.8" textLength="182" lengthAdjust="spacingAndGlyphs">Frequency</tspan> <tspan x="622.2" textLength="69" lengthAdjust="spacingAndGlyphs">(Hz)</tspan></text>
<g shape-rendering="crispEdges">
<rect x="915.3" y="821.97" width="41.20" height="11.93" fill="#000087"/>
<rect x="915.3" y="810.64" width="41.20" height="11.93" fill="#000097"/>
<rect x="915.3" y="799.31" width="41.20" height="11.93" fill="#0000a7"/>
<rect x="915.3" y="787.98" width="41.20" height="11.93" fill="#0000b7"/>
<rect x="915.3" y="776.65" width="41.20" height="11.93" fill="#0000c7"/>
<rect x="915.3" y="765.32" width="41.20" height="11.93" fill="#0000d7"/>
<rect x="915.3" y="753.99" width="41.20" height="11.93" fill="#0000e7"/>
<rect x="915.3" y="742.66" width="41.20" height="11.93" fill="#0000f7"/>
<rect x="915.3" y="731.33" width="41.20" height="11.93" fill="#0008ff"/>
<rect x="915.3" y="720.00" width="41.20" height="11.93" fill="#0018ff"/>
<rect x="915.3" y="708.67" width="41.20" height="11.93" fill="#0028ff"/>
<rect x="915.3" y="697.34" width="41.20" height="11.93" fill="#0038ff"/>
<rect x="915.3" y="686.01" width="41.20" height="11.93" fill="#0048ff"/>
<rect x="915.3" y="674.68" width="41.20" height="11.93" fill="#0058ff"/>
<rect x="915.3" y="663.35" width="41.20" height="11.93" fill="#0068ff"/>
<rect x="915.3" y="652.02" width="41.20" height="11.93" fill="#0078ff"/>
<rect x="915.3" y="640.70" width="41.20" height="11.93" fill="#0087ff"/>
<rect x="915.3" y="629.37" width="41.20" height="11.93" fill="#0097ff"/>
<rect x="915.3" y="618.04" width="41.20" height="11.93" fill="#00a7ff"/>
<rect x="915.3" y="606.71" width="41.20" height="11.93" fill="#00b7ff"/>
<rect x="915.3" y="595.38" width="41.20" height="11.93" fill="#00c7ff"/>
<rect x="915.3" y="584.05" width="41.20" height="11.93" fill="#00d7ff"/>
<rect x="915.3" y="572.72" width="41.20" height="11.93" fill="#00e7ff"/>
<rect x="915.3" y="561.39" width="41.20" height="11.93" fill="#00f7ff"/>
<rect x="915.3" y="550.06" width="41.20" height="11.93" fill="#08fff7"/>
<rect x="915.3" y="538.73" width="41.20" height="11.93" fill="#18ffe7"/>
<rect x="915.3" y="527.40" width="41.20" height="11.93" fill="#28ffd7"/>
<rect x="915.3" y="516.07" width="41.20" height="11.93" fill="#38ffc7"/>
<rect x="915.3" y="504.74" width="41.20" height="11.93" fill="#48ffb7"/>
<rect x="915.3" y="493.41" width="41.20" height="11.93" fill="#58ffa7"/>
<rect x="915.3" y="482.08" width="41.20" height="11.93" fill="#68ff97"/>
<rect x="915.3" y="470.75" width="41.20" height="11.93" fill="#78ff87"/>
<rect x="915.3" y="459.42" width="41.20" height="11.93" fill="#87ff78"/>
<rect x="915.3" y="448.09" width="41.20" height="11.93" fill="#97ff68"/>
<rect x="915.3" y="436.76" width="41.20" height="11.93" fill="#a7ff58"/>
<rect x="915.3" y="425.43" width="41.20" height="11.93" fill="#b7ff48"/>
<rect x="915.3" y="414.10" width="41.20" height="11.93" fill="#c7ff38"/>
<rect x="915.3" y="402.77" width="41.20" height="11.93" fill="#d7ff28"/>
<rect x="915.3" y="391.44" width="41.20" height="11.93" fill="#e7ff18"/>
<rect x="915.3" y="380.11" width="41.20" height="11.93" fill="#f7ff08"/>
<rect x="915.3" y="368.78" width="41.20" height="11.93" fill="#fff700"/>
<rect x="915.3" y="357.45" width="41.20" height="11.93" fill="#ffe700"/>
<rect x="915.3" y="346.12" width="41.20" height="11.93" fill="#ffd700"/>
<rect x="915.3" y="334.79" width="41.20" height="11.93" fill="#ffc700"/>
<rect x="915.3" y="323.46" width="41.20" height="11.93" fill="#ffb700"/>
<rect x="915.3" y="312.13" width="41.20" height="11.93" fill="#ffa700"/>
<rect x="915.3" y="300.80" width="41.20" height="11.93" fill="#ff9700"/>
<rect x="915.3" y="289.48" width="41.20" height="11.93" fill="#ff8700"/>
<rect x="915.3" y="278.15" width="41.20" height="11.93" fill="#ff7800"/>
<rect x="915.3" y="266.82" width="41.20" height="11.93" fill="#ff6800"/>
<rect x="915.3" y="255.49" width="41.20" height="11.93" fill="#ff5800"/>
<rect x="915.3" y="244.16" width="41.20" height="11.93" fill="#ff4800"/>
<rect x="915.3" y="232.83" width="41.20" height="11.93" fill="#ff3800"/>
<rect x="915.3" y="221.50" width="41.20" height="11.93" fill="#ff2800"/>
<rect x="915.3" y="210.17" width="41.20" height="11.93" fill="#ff1800"/>
<rect x="915.3" y="198.84" width="41.20" height="11.93" fill="#ff0800"/>
<rect x="915.3" y="187.51" width="41.20" height="11.93" fill="#f70000"/>
<rect x="915.3" y="176.18" width="41.20" height="11.93" fill="#e70000"/>
<rect x="915.3" y="164.85" width="41.20" height="11.93" fill="#d70000"/>
<rect x="915.3" y="153.52" width="41.20" height="11.93" fill="#c70000"/>
<rect x="915.3" y="142.19" width="41.20" height="11.93" fill="#b70000"/>
<rect x="915.3" y="130.86" width="41.20" height="11.93" fill="#a70000"/>
<rect x="915.3" y="119.53" width="41.20" height="11.93" fill="#970000"/>
<rect x="915.3" y="108.20" width="41.20" height="11.93" fill="#870000"/>
</g>
<rect x="914.8" y="108.2" width="1" height="725.0999999999999" fill="#3a3a3a" opacity="0.7"/>
<rect x="956.0" y="108.2" width="1" height="725.0999999999999" fill="#3a3a3a" opacity="0.7"/>
<rect x="915.3" y="832.80" width="9" height="1" fill="#222"/>
<rect x="920.8" y="833.10" width="3.5" height="1.7" fill="#111"/>
<rect x="947.5" y="832.80" width="9" height="1" fill="#222"/>
<rect x="947.5" y="833.10" width="3.5" height="1.7" fill="#111"/>
<text x="960.9" y="849.9" font-size="44" textLength="23.299999999999997" lengthAdjust="spacingAndGlyphs" fill="#000">0</text>
<rect x="915.3" y="687.78" width="9" height="1" fill="#222"/>
<rect x="920.8" y="688.08" width="3.5" height="1.7" fill="#111"/>
<rect x="947.5" y="687.78" width="9" height="1" fill="#222"/>
<rect x="947.5" y="688.08" width="3.5" height="1.7" fill="#111"/>
<text x="960.9" y="703.8" font-size="44" textLength="59.1" lengthAdjust="spacingAndGlyphs" fill="#000">0.2</text>
<rect x="915.3" y="542.76" width="9" height="1" fill="#222"/>
<rect x="920.8" y="543.06" width="3.5" height="1.7" fill="#111"/>
<rect x="947.5" y="542.76" width="9" height="1" fill="#222"/>
<rect x="947.5" y="543.06" width="3.5" height="1.7" fill="#111"/>
<text x="960.9" y="558.8" font-size="44" textLength="59.1" lengthAdjust="spacingAndGlyphs" fill="#000">0.4</text>
<rect x="915.3" y="397.74" width="9" height="1" fill="#222"/>
<rect x="920.8" y="398.04" width="3.5" height="1.7" fill="#111"/>
<rect x="947.5" y="397.74" width="9" height="1" fill="#222"/>
<rect x="947.5" y="398.04" width="3.5" height="1.7" fill="#111"/>
<text x="960.9" y="413.7" font-size="44" textLength="59.1" lengthAdjust="spacingAndGlyphs" fill="#000">0.6</text>
<rect x="915.3" y="252.72" width="9" height="1" fill="#222"/>
<rect x="920.8" y="253.02" width="3.5" height="1.7" fill="#111"/>
<rect x="947.5" y="252.72" width="9" height="1" fill="#222"/>
<rect x="947.5" y="253.02" width="3.5" height="1.7" fill="#111"/>
<text x="960.9" y="268.7" font-size="44" textLength="59.1" lengthAdjust="spacingAndGlyphs" fill="#000">0.8</text>
<rect x="915.3" y="107.70" width="9" height="1" fill="#222"/>
<rect x="920.8" y="108.00" width="3.5" height="1.7" fill="#111"/>
<rect x="947.5" y="107.70" width="9" height="1" fill="#222"/>
<rect x="947.5" y="108.00" width="3.5" height="1.7" fill="#111"/>
<text x="960.9" y="123.7" font-size="44" textLength="23.299999999999997" lengthAdjust="spacingAndGlyphs" fill="#000">1</text>
<rect x="956.5" y="107.6" width="3.3" height="1.2" fill="#222"/>
<rect x="921.0" y="833.4" width="3.5" height="1.9" fill="#111"/>
<rect x="948.4" y="833.4" width="3.5" height="1.9" fill="#111"/>
<rect x="956.2" y="833.2" width="3.4" height="1.8" fill="#111"/>
<rect x="7.1" y="243.8" width="130" height="74.2" fill="#990000"/>
<text x="36.8" y="295.0" font-size="38.5" font-weight="bold" textLength="71.0" lengthAdjust="spacingAndGlyphs" fill="#fff">CUS</text>
<rect x="7.1" y="515.1" width="130" height="73.7" fill="#4f933f"/>
<text x="41.0" y="566.4" font-size="38.5" font-weight="bold" textLength="63.0" lengthAdjust="spacingAndGlyphs" fill="#fff">STS</text>
<rect x="7.1" y="714.7" width="130" height="73.7" fill="#1f1f8b"/>
<text x="32.2" y="765.9" font-size="38.5" font-weight="bold" textLength="79.0" lengthAdjust="spacingAndGlyphs" fill="#fff">CON</text>
<line x1="1224.6" y1="76.45" x2="1224.6" y2="290.25" stroke="#000" stroke-width="2.5"/>
<line x1="1214.2" y1="289.00" x2="1224.6" y2="289.00" stroke="#000" stroke-width="2.3"/>
<text x="1174.9" y="294.3" font-size="22" textLength="32.4" lengthAdjust="spacingAndGlyphs" fill="#000">0.0</text>
<line x1="1214.2" y1="236.15" x2="1224.6" y2="236.15" stroke="#000" stroke-width="2.3"/>
<text x="1174.9" y="241.5" font-size="22" textLength="32.4" lengthAdjust="spacingAndGlyphs" fill="#000">0.2</text>
<line x1="1214.2" y1="183.30" x2="1224.6" y2="183.30" stroke="#000" stroke-width="2.3"/>
<text x="1174.9" y="188.6" font-size="22" textLength="32.4" lengthAdjust="spacingAndGlyphs" fill="#000">0.4</text>
<line x1="1214.2" y1="130.45" x2="1224.6" y2="130.45" stroke="#000" stroke-width="2.3"/>
<text x="1174.9" y="135.8" font-size="22" textLength="32.4" lengthAdjust="spacingAndGlyphs" fill="#000">0.6</text>
<line x1="1214.2" y1="77.60" x2="1224.6" y2="77.60" stroke="#000" stroke-width="2.3"/>
<text x="1174.9" y="82.9" font-size="22" textLength="32.4" lengthAdjust="spacingAndGlyphs" fill="#000">0.8</text>
<line x1="1283.1" y1="102.7" x2="1283.1" y2="138.2" stroke="#000" stroke-width="2"/>
<line x1="1277.8" y1="102.7" x2="1288.4" y2="102.7" stroke="#000" stroke-width="2.1"/>
<rect x="1251.70" y="139.10" width="62.80" height="149.90" fill="#00009b" stroke="#000" stroke-width="1.8"/>
<line x1="1283.1" y1="289.0" x2="1283.1" y2="298.8" stroke="#000" stroke-width="2.3"/>
<text x="1259.8" y="324.2" font-size="23.2" textLength="46.6" lengthAdjust="spacingAndGlyphs" fill="#000">CON</text>
<line x1="1367.2" y1="184.4" x2="1367.2" y2="223.9" stroke="#000" stroke-width="2"/>
<line x1="1362.0" y1="184.4" x2="1372.5" y2="184.4" stroke="#000" stroke-width="2.1"/>
<rect x="1335.85" y="224.80" width="62.80" height="64.20" fill="#008000" stroke="#000" stroke-width="1.8"/>
<line x1="1367.2" y1="289.0" x2="1367.2" y2="298.8" stroke="#000" stroke-width="2.3"/>
<text x="1348.8" y="324.2" font-size="23.2" textLength="37.0" lengthAdjust="spacingAndGlyphs" fill="#000">STS</text>
<line x1="1451.4" y1="166.8" x2="1451.4" y2="207.4" stroke="#000" stroke-width="2"/>
<line x1="1446.1" y1="166.8" x2="1456.7" y2="166.8" stroke="#000" stroke-width="2.1"/>
<rect x="1420.00" y="208.30" width="62.80" height="80.70" fill="#800000" stroke="#000" stroke-width="1.8"/>
<line x1="1451.4" y1="289.0" x2="1451.4" y2="298.8" stroke="#000" stroke-width="2.3"/>
<text x="1430.0" y="324.2" font-size="23.2" textLength="42.8" lengthAdjust="spacingAndGlyphs" fill="#000">CUS</text>
<line x1="1214.2" y1="289.0" x2="1509.6" y2="289.0" stroke="#000" stroke-width="2.5"/>
<text x="1222.9" y="60.8" font-size="27" font-weight="bold" textLength="63.2" lengthAdjust="spacingAndGlyphs" fill="#000">delta</text>
<text transform="translate(1165.0,178.7) rotate(-90)" x="-57.5" y="0" font-size="23.6" textLength="115" lengthAdjust="spacingAndGlyphs" fill="#000">Coherence</text>
<text x="1366.6" y="111.8" font-size="28.5" text-anchor="middle" fill="#000" stroke="#000" stroke-width="0.7" style="font-family:'DejaVu Sans',sans-serif">*</text>
<text x="1452.0" y="111.8" font-size="28.5" text-anchor="middle" fill="#000" stroke="#000" stroke-width="0.7" style="font-family:'DejaVu Sans',sans-serif">*</text>
<line x1="1714.6" y1="76.45" x2="1714.6" y2="290.25" stroke="#000" stroke-width="2.5"/>
<line x1="1704.2" y1="289.00" x2="1714.6" y2="289.00" stroke="#000" stroke-width="2.3"/>
<text x="1664.9" y="294.3" font-size="22" textLength="32.4" lengthAdjust="spacingAndGlyphs" fill="#000">0.0</text>
<line x1="1704.2" y1="236.15" x2="1714.6" y2="236.15" stroke="#000" stroke-width="2.3"/>
<text x="1664.9" y="241.5" font-size="22" textLength="32.4" lengthAdjust="spacingAndGlyphs" fill="#000">0.2</text>
<line x1="1704.2" y1="183.30" x2="1714.6" y2="183.30" stroke="#000" stroke-width="2.3"/>
<text x="1664.9" y="188.6" font-size="22" textLength="32.4" lengthAdjust="spacingAndGlyphs" fill="#000">0.4</text>
<line x1="1704.2" y1="130.45" x2="1714.6" y2="130.45" stroke="#000" stroke-width="2.3"/>
<text x="1664.9" y="135.8" font-size="22" textLength="32.4" lengthAdjust="spacingAndGlyphs" fill="#000">0.6</text>
<line x1="1704.2" y1="77.60" x2="1714.6" y2="77.60" stroke="#000" stroke-width="2.3"/>
<text x="1664.9" y="82.9" font-size="22" textLength="32.4" lengthAdjust="spacingAndGlyphs" fill="#000">0.8</text>
<line x1="1773.1" y1="155.2" x2="1773.1" y2="185.5" stroke="#000" stroke-width="2"/>
<line x1="1767.8" y1="155.2" x2="1778.4" y2="155.2" stroke="#000" stroke-width="2.1"/>
<rect x="1741.70" y="186.40" width="62.80" height="102.60" fill="#00009b" stroke="#000" stroke-width="1.8"/>
<line x1="1773.1" y1="289.0" x2="1773.1" y2="298.8" stroke="#000" stroke-width="2.3"/>
<text x="1749.8" y="324.2" font-size="23.2" textLength="46.6" lengthAdjust="spacingAndGlyphs" fill="#000">CON</text>
<line x1="1857.2" y1="198.5" x2="1857.2" y2="223.5" stroke="#000" stroke-width="2"/>
<line x1="1852.0" y1="198.5" x2="1862.5" y2="198.5" stroke="#000" stroke-width="2.1"/>
<rect x="1825.85" y="224.40" width="62.80" height="64.60" fill="#008000" stroke="#000" stroke-width="1.8"/>
<line x1="1857.2" y1="289.0" x2="1857.2" y2="298.8" stroke="#000" stroke-width="2.3"/>
<text x="1838.8" y="324.2" font-size="23.2" textLength="37.0" lengthAdjust="spacingAndGlyphs" fill="#000">STS</text>
<line x1="1941.4" y1="209.0" x2="1941.4" y2="237.3" stroke="#000" stroke-width="2"/>
<line x1="1936.1" y1="209.0" x2="1946.7" y2="209.0" stroke="#000" stroke-width="2.1"/>
<rect x="1910.00" y="238.20" width="62.80" height="50.80" fill="#800000" stroke="#000" stroke-width="1.8"/>
<line x1="1941.4" y1="289.0" x2="1941.4" y2="298.8" stroke="#000" stroke-width="2.3"/>
<text x="1920.0" y="324.2" font-size="23.2" textLength="42.8" lengthAdjust="spacingAndGlyphs" fill="#000">CUS</text>
<line x1="1704.2" y1="289.0" x2="1999.6" y2="289.0" stroke="#000" stroke-width="2.5"/>
<text x="1714.4" y="68.3" font-size="27" font-weight="bold" textLength="66.7" lengthAdjust="spacingAndGlyphs" fill="#000">theta</text>
<text transform="translate(1655.0,178.7) rotate(-90)" x="-57.5" y="0" font-size="23.6" textLength="115" lengthAdjust="spacingAndGlyphs" fill="#000">Coherence</text>
<text x="1942.0" y="112.6" font-size="28.5" text-anchor="middle" fill="#000" stroke="#000" stroke-width="0.7" style="font-family:'DejaVu Sans',sans-serif">*</text>
<line x1="1224.6" y1="377.45" x2="1224.6" y2="591.25" stroke="#000" stroke-width="2.5"/>
<line x1="1214.2" y1="590.00" x2="1224.6" y2="590.00" stroke="#000" stroke-width="2.3"/>
<text x="1174.9" y="595.3" font-size="22" textLength="32.4" lengthAdjust="spacingAndGlyphs" fill="#000">0.0</text>
<line x1="1214.2" y1="537.15" x2="1224.6" y2="537.15" stroke="#000" stroke-width="2.3"/>
<text x="1174.9" y="542.4" font-size="22" textLength="32.4" lengthAdjust="spacingAndGlyphs" fill="#000">0.2</text>
<line x1="1214.2" y1="484.30" x2="1224.6" y2="484.30" stroke="#000" stroke-width="2.3"/>
<text x="1174.9" y="489.6" font-size="22" textLength="32.4" lengthAdjust="spacingAndGlyphs" fill="#000">0.4</text>
<line x1="1214.2" y1="431.45" x2="1224.6" y2="431.45" stroke="#000" stroke-width="2.3"/>
<text x="1174.9" y="436.8" font-size="22" textLength="32.4" lengthAdjust="spacingAndGlyphs" fill="#000">0.6</text>
<line x1="1214.2" y1="378.60" x2="1224.6" y2="378.60" stroke="#000" stroke-width="2.3"/>
<text x="1174.9" y="383.9" font-size="22" textLength="32.4" lengthAdjust="spacingAndGlyphs" fill="#000">0.8</text>
<line x1="1283.1" y1="465.2" x2="1283.1" y2="505.2" stroke="#000" stroke-width="2"/>
<line x1="1277.8" y1="465.2" x2="1288.4" y2="465.2" stroke="#000" stroke-width="2.1"/>
<rect x="1251.70" y="506.10" width="62.80" height="83.90" fill="#00009b" stroke="#000" stroke-width="1.8"/>
<line x1="1283.1" y1="590.0" x2="1283.1" y2="599.8" stroke="#000" stroke-width="2.3"/>
<text x="1259.8" y="625.2" font-size="23.2" textLength="46.6" lengthAdjust="spacingAndGlyphs" fill="#000">CON</text>
<line x1="1367.2" y1="514.3" x2="1367.2" y2="538.2" stroke="#000" stroke-width="2"/>
<line x1="1362.0" y1="514.3" x2="1372.5" y2="514.3" stroke="#000" stroke-width="2.1"/>
<rect x="1335.85" y="539.10" width="62.80" height="50.90" fill="#008000" stroke="#000" stroke-width="1.8"/>
<line x1="1367.2" y1="590.0" x2="1367.2" y2="599.8" stroke="#000" stroke-width="2.3"/>
<text x="1348.8" y="625.2" font-size="23.2" textLength="37.0" lengthAdjust="spacingAndGlyphs" fill="#000">STS</text>
<line x1="1451.4" y1="536.4" x2="1451.4" y2="554.0" stroke="#000" stroke-width="2"/>
<line x1="1446.1" y1="536.4" x2="1456.7" y2="536.4" stroke="#000" stroke-width="2.1"/>
<rect x="1420.00" y="554.90" width="62.80" height="35.10" fill="#800000" stroke="#000" stroke-width="1.8"/>
<line x1="1451.4" y1="590.0" x2="1451.4" y2="599.8" stroke="#000" stroke-width="2.3"/>
<text x="1430.0" y="625.2" font-size="23.2" textLength="42.8" lengthAdjust="spacingAndGlyphs" fill="#000">CUS</text>
<line x1="1214.2" y1="590.0" x2="1509.6" y2="590.0" stroke="#000" stroke-width="2.5"/>
<text x="1223.2" y="368.5" font-size="27" font-weight="bold" textLength="56.5" lengthAdjust="spacingAndGlyphs" fill="#000">beta</text>
<text transform="translate(1165.0,479.7) rotate(-90)" x="-57.5" y="0" font-size="23.6" textLength="115" lengthAdjust="spacingAndGlyphs" fill="#000">Coherence</text>
<text x="1452.0" y="422.6" font-size="28.5" text-anchor="middle" fill="#000" stroke="#000" stroke-width="0.7" style="font-family:'DejaVu Sans',sans-serif">*</text>
<line x1="1714.6" y1="377.45" x2="1714.6" y2="591.25" stroke="#000" stroke-width="2.5"/>
<line x1="1704.2" y1="590.00" x2="1714.6" y2="590.00" stroke="#000" stroke-width="2.3"/>
<text x="1664.9" y="595.3" font-size="22" textLength="32.4" lengthAdjust="spacingAndGlyphs" fill="#000">0.0</text>
<line x1="1704.2" y1="537.15" x2="1714.6" y2="537.15" stroke="#000" stroke-width="2.3"/>
<text x="1664.9" y="542.4" font-size="22" textLength="32.4" lengthAdjust="spacingAndGlyphs" fill="#000">0.2</text>
<line x1="1704.2" y1="484.30" x2="1714.6" y2="484.30" stroke="#000" stroke-width="2.3"/>
<text x="1664.9" y="489.6" font-size="22" textLength="32.4" lengthAdjust="spacingAndGlyphs" fill="#000">0.4</text>
<line x1="1704.2" y1="431.45" x2="1714.6" y2="431.45" stroke="#000" stroke-width="2.3"/>
<text x="1664.9" y="436.8" font-size="22" textLength="32.4" lengthAdjust="spacingAndGlyphs" fill="#000">0.6</text>
<line x1="1704.2" y1="378.60" x2="1714.6" y2="378.60" stroke="#000" stroke-width="2.3"/>
<text x="1664.9" y="383.9" font-size="22" textLength="32.4" lengthAdjust="spacingAndGlyphs" fill="#000">0.8</text>
<line x1="1773.1" y1="504.3" x2="1773.1" y2="529.5" stroke="#000" stroke-width="2"/>
<line x1="1767.8" y1="504.3" x2="1778.4" y2="504.3" stroke="#000" stroke-width="2.1"/>
<rect x="1741.70" y="530.40" width="62.80" height="59.60" fill="#00009b" stroke="#000" stroke-width="1.8"/>
<line x1="1773.1" y1="590.0" x2="1773.1" y2="599.8" stroke="#000" stroke-width="2.3"/>
<text x="1749.8" y="625.2" font-size="23.2" textLength="46.6" lengthAdjust="spacingAndGlyphs" fill="#000">CON</text>
<line x1="1857.2" y1="525.9" x2="1857.2" y2="543.1" stroke="#000" stroke-width="2"/>
<line x1="1852.0" y1="525.9" x2="1862.5" y2="525.9" stroke="#000" stroke-width="2.1"/>
<rect x="1825.85" y="544.00" width="62.80" height="46.00" fill="#008000" stroke="#000" stroke-width="1.8"/>
<line x1="1857.2" y1="590.0" x2="1857.2" y2="599.8" stroke="#000" stroke-width="2.3"/>
<text x="1838.8" y="625.2" font-size="23.2" textLength="37.0" lengthAdjust="spacingAndGlyphs" fill="#000">STS</text>
<line x1="1941.4" y1="542.0" x2="1941.4" y2="556.3" stroke="#000" stroke-width="2"/>
<line x1="1936.1" y1="542.0" x2="1946.7" y2="542.0" stroke="#000" stroke-width="2.1"/>
<rect x="1910.00" y="557.20" width="62.80" height="32.80" fill="#800000" stroke="#000" stroke-width="1.8"/>
<line x1="1941.4" y1="590.0" x2="1941.4" y2="599.8" stroke="#000" stroke-width="2.3"/>
<text x="1920.0" y="625.2" font-size="23.2" textLength="42.8" lengthAdjust="spacingAndGlyphs" fill="#000">CUS</text>
<line x1="1704.2" y1="590.0" x2="1999.6" y2="590.0" stroke="#000" stroke-width="2.5"/>
<text x="1715.1" y="368.1" font-size="27" font-weight="bold" textLength="146.0" lengthAdjust="spacingAndGlyphs" fill="#000">low gamma</text>
<text transform="translate(1655.0,479.7) rotate(-90)" x="-57.5" y="0" font-size="23.6" textLength="115" lengthAdjust="spacingAndGlyphs" fill="#000">Coherence</text>
<text x="1857.0" y="461.0" font-size="21" text-anchor="middle" fill="#000">#</text>
<text x="1941.8" y="422.6" font-size="28.5" text-anchor="middle" fill="#000" stroke="#000" stroke-width="0.7" style="font-family:'DejaVu Sans',sans-serif">*</text>
<line x1="1461.1" y1="678.55" x2="1461.1" y2="892.35" stroke="#000" stroke-width="2.5"/>
<line x1="1450.7" y1="891.10" x2="1461.1" y2="891.10" stroke="#000" stroke-width="2.3"/>
<text x="1411.4" y="896.4" font-size="22" textLength="32.4" lengthAdjust="spacingAndGlyphs" fill="#000">0.0</text>
<line x1="1450.7" y1="838.25" x2="1461.1" y2="838.25" stroke="#000" stroke-width="2.3"/>
<text x="1411.4" y="843.5" font-size="22" textLength="32.4" lengthAdjust="spacingAndGlyphs" fill="#000">0.2</text>
<line x1="1450.7" y1="785.40" x2="1461.1" y2="785.40" stroke="#000" stroke-width="2.3"/>
<text x="1411.4" y="790.7" font-size="22" textLength="32.4" lengthAdjust="spacingAndGlyphs" fill="#000">0.4</text>
<line x1="1450.7" y1="732.55" x2="1461.1" y2="732.55" stroke="#000" stroke-width="2.3"/>
<text x="1411.4" y="737.8" font-size="22" textLength="32.4" lengthAdjust="spacingAndGlyphs" fill="#000">0.6</text>
<line x1="1450.7" y1="679.70" x2="1461.1" y2="679.70" stroke="#000" stroke-width="2.3"/>
<text x="1411.4" y="685.0" font-size="22" textLength="32.4" lengthAdjust="spacingAndGlyphs" fill="#000">0.8</text>
<line x1="1519.6" y1="792.5" x2="1519.6" y2="812.8" stroke="#000" stroke-width="2"/>
<line x1="1514.3" y1="792.5" x2="1524.9" y2="792.5" stroke="#000" stroke-width="2.1"/>
<rect x="1488.20" y="813.70" width="62.80" height="77.40" fill="#00009b" stroke="#000" stroke-width="1.8"/>
<line x1="1519.6" y1="891.1" x2="1519.6" y2="900.9" stroke="#000" stroke-width="2.3"/>
<text x="1496.3" y="926.3" font-size="23.2" textLength="46.6" lengthAdjust="spacingAndGlyphs" fill="#000">CON</text>
<line x1="1603.8" y1="784.6" x2="1603.8" y2="813.4" stroke="#000" stroke-width="2"/>
<line x1="1598.5" y1="784.6" x2="1609.0" y2="784.6" stroke="#000" stroke-width="2.1"/>
<rect x="1572.35" y="814.30" width="62.80" height="76.80" fill="#008000" stroke="#000" stroke-width="1.8"/>
<line x1="1603.8" y1="891.1" x2="1603.8" y2="900.9" stroke="#000" stroke-width="2.3"/>
<text x="1585.2" y="926.3" font-size="23.2" textLength="37.0" lengthAdjust="spacingAndGlyphs" fill="#000">STS</text>
<line x1="1687.9" y1="797.6" x2="1687.9" y2="827.7" stroke="#000" stroke-width="2"/>
<line x1="1682.6" y1="797.6" x2="1693.2" y2="797.6" stroke="#000" stroke-width="2.1"/>
<rect x="1656.50" y="828.60" width="62.80" height="62.50" fill="#800000" stroke="#000" stroke-width="1.8"/>
<line x1="1687.9" y1="891.1" x2="1687.9" y2="900.9" stroke="#000" stroke-width="2.3"/>
<text x="1666.5" y="926.3" font-size="23.2" textLength="42.8" lengthAdjust="spacingAndGlyphs" fill="#000">CUS</text>
<line x1="1450.7" y1="891.1" x2="1746.1" y2="891.1" stroke="#000" stroke-width="2.5"/>
<text x="1461.3" y="669.5" font-size="27" font-weight="bold" textLength="153.1" lengthAdjust="spacingAndGlyphs" fill="#000">high gamma</text>
<text transform="translate(1401.5,780.8) rotate(-90)" x="-57.5" y="0" font-size="23.6" textLength="115" lengthAdjust="spacingAndGlyphs" fill="#000">Coherence</text>
</svg></body></html>
